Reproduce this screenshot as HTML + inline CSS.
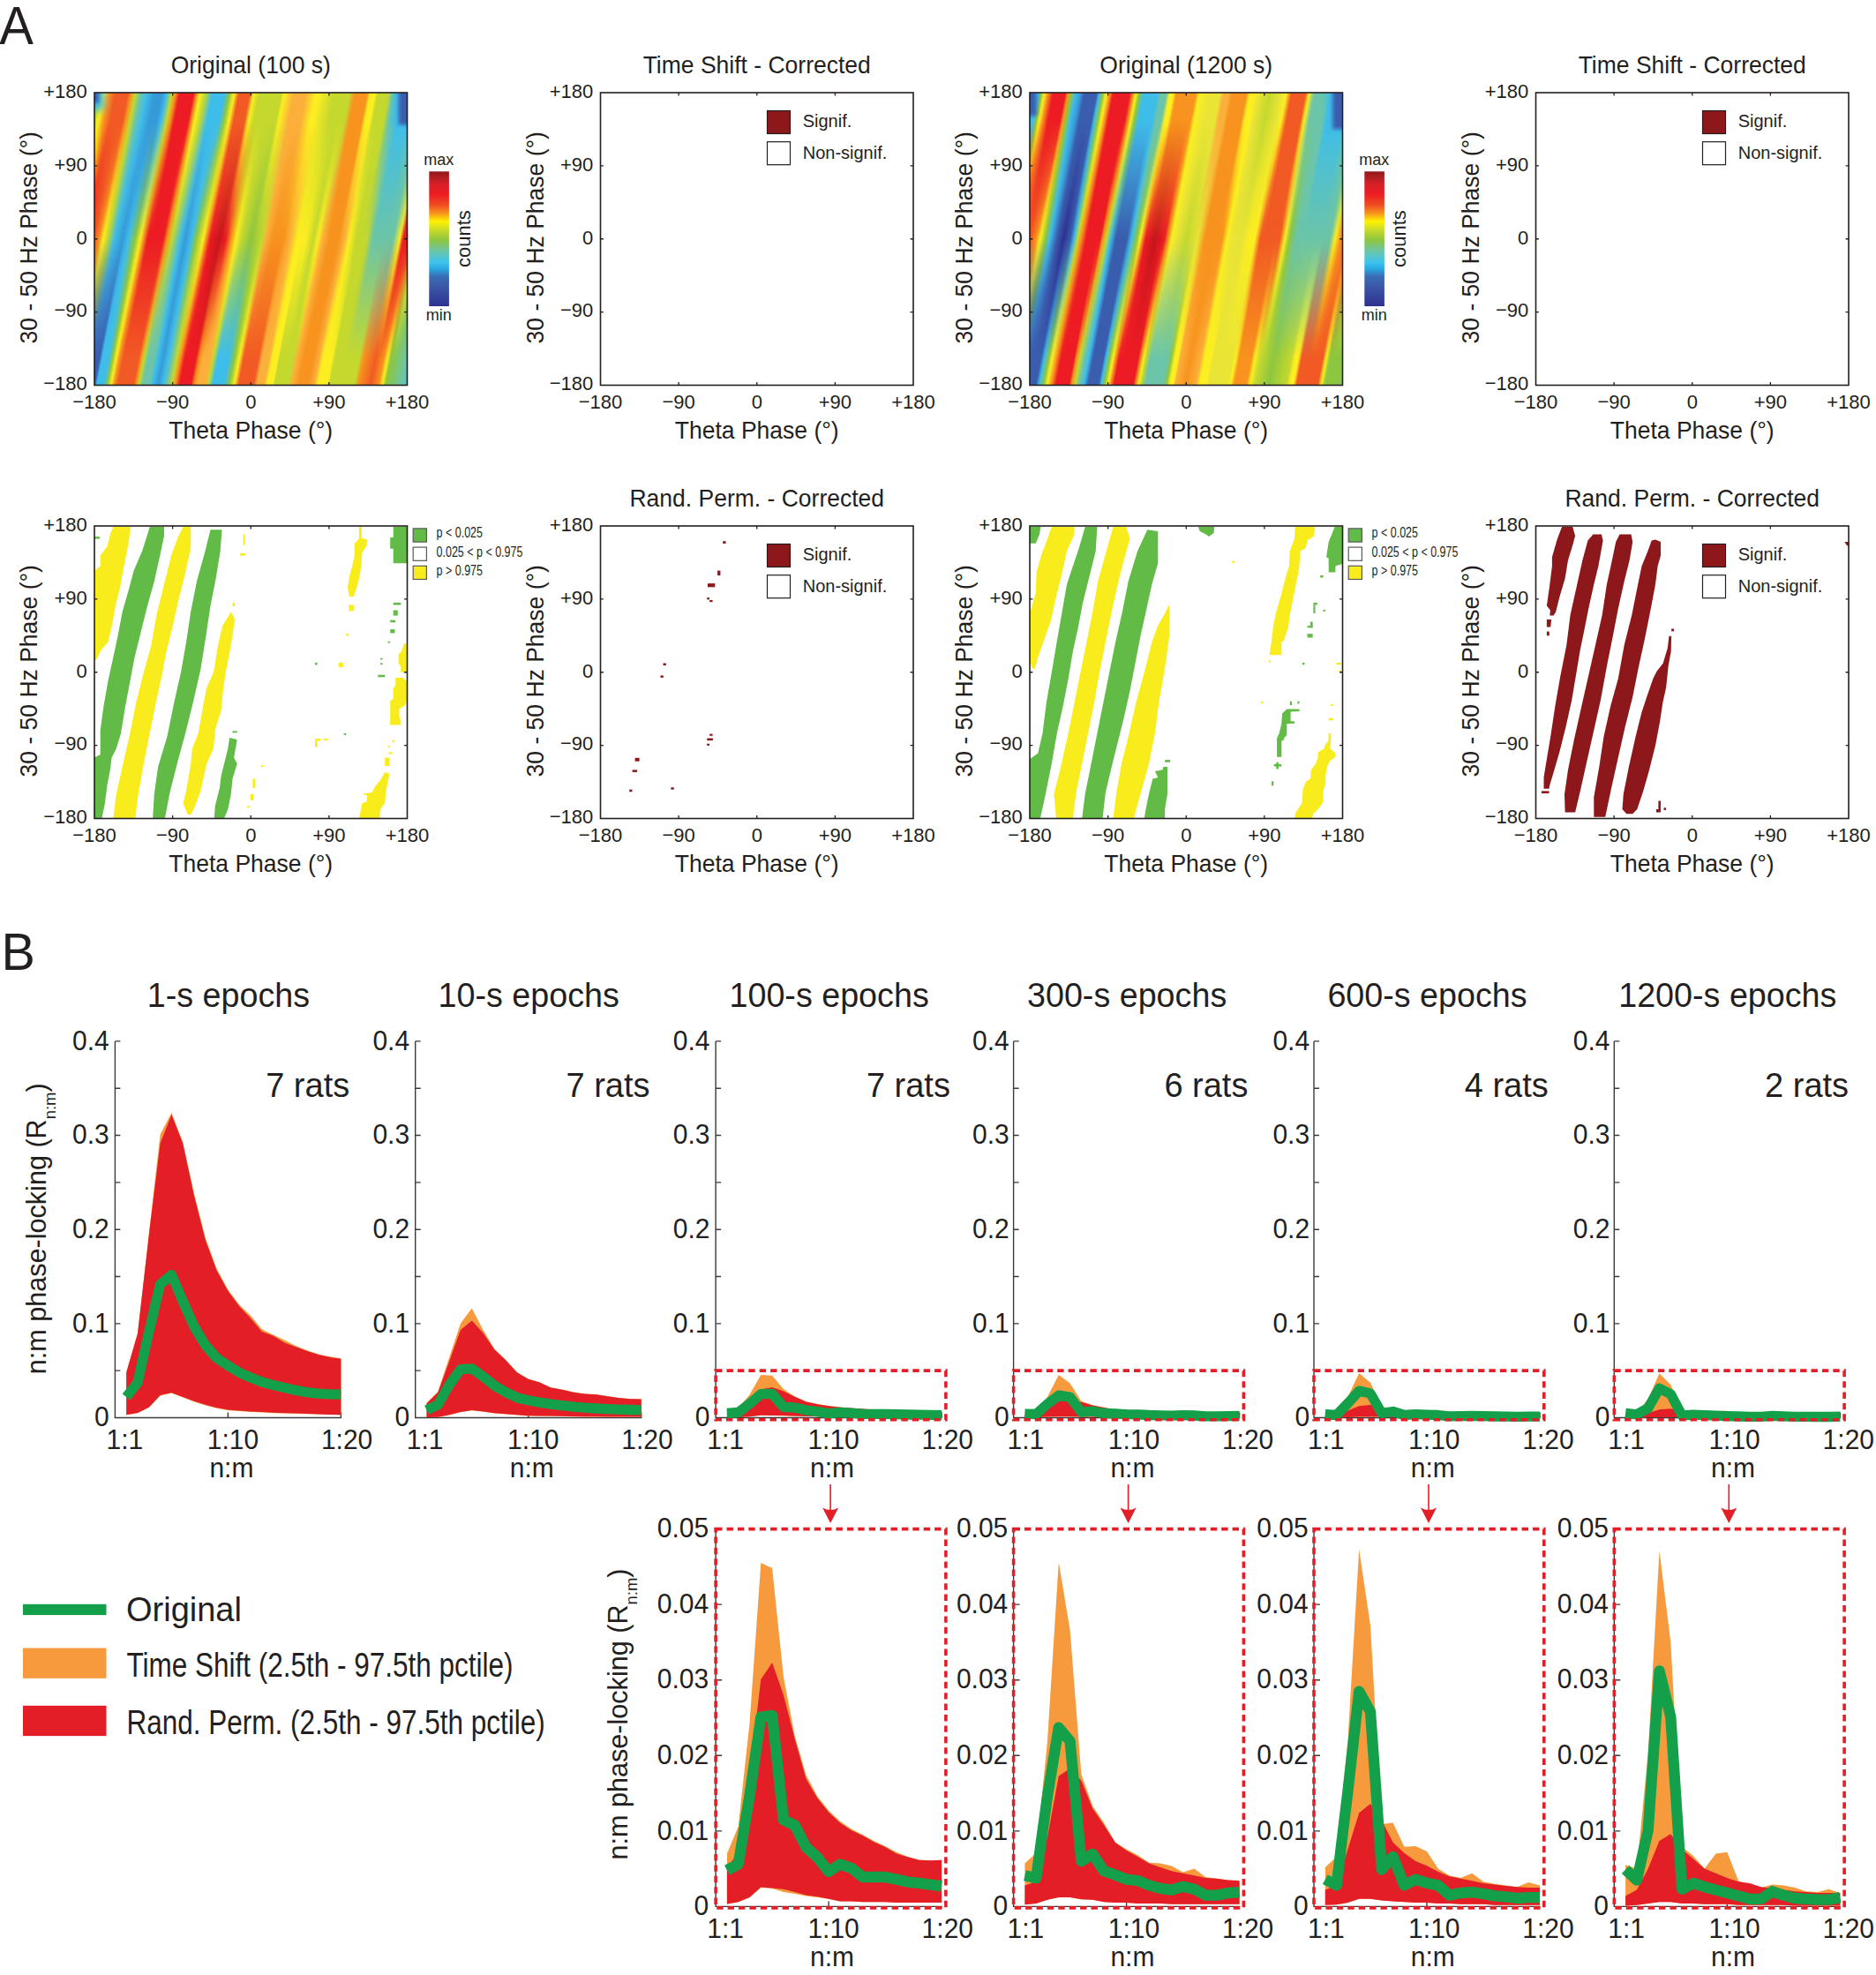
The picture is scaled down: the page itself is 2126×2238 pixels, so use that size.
<!DOCTYPE html>
<html><head><meta charset="utf-8"><title>Figure</title>
<style>html,body{margin:0;padding:0;background:#fff}svg{display:block}text{font-family:"Liberation Sans", sans-serif}</style></head>
<body><svg width="2126" height="2238" viewBox="0 0 2126 2238">
<defs><filter id="bl2" x="-50%" y="-50%" width="200%" height="200%"><feGaussianBlur stdDeviation="2"/></filter><filter id="bl4" x="-50%" y="-50%" width="200%" height="200%"><feGaussianBlur stdDeviation="4"/></filter>
<clipPath id="cp1"><rect x="107.00" y="105.00" width="354.50" height="331.50"/></clipPath>
<linearGradient id="hm1" gradientUnits="userSpaceOnUse" x1="50.28" y1="0" x2="518.22" y2="0"><stop offset="0.0000" stop-color="#8DC63F"/><stop offset="0.0303" stop-color="#3FBDEA"/><stop offset="0.0530" stop-color="#3FBDEA"/><stop offset="0.0720" stop-color="#8DC63F"/><stop offset="0.0833" stop-color="#FCEE21"/><stop offset="0.0985" stop-color="#ED1C24"/><stop offset="0.1212" stop-color="#F15A24"/><stop offset="0.1326" stop-color="#F7931E"/><stop offset="0.1424" stop-color="#FCEE21"/><stop offset="0.1530" stop-color="#C4D82E"/><stop offset="0.1697" stop-color="#3FBDEA"/><stop offset="0.1894" stop-color="#379AD8"/><stop offset="0.2030" stop-color="#3FBDEA"/><stop offset="0.2197" stop-color="#8DC63F"/><stop offset="0.2326" stop-color="#FCEE21"/><stop offset="0.2500" stop-color="#ED1C24"/><stop offset="0.2879" stop-color="#ED1C24"/><stop offset="0.2970" stop-color="#F7931E"/><stop offset="0.3083" stop-color="#C4D82E"/><stop offset="0.3295" stop-color="#3FBDEA"/><stop offset="0.3409" stop-color="#379AD8"/><stop offset="0.3561" stop-color="#3FBDEA"/><stop offset="0.3674" stop-color="#8DC63F"/><stop offset="0.3848" stop-color="#FCEE21"/><stop offset="0.4015" stop-color="#ED1C24"/><stop offset="0.4242" stop-color="#C4161C"/><stop offset="0.4394" stop-color="#ED1C24"/><stop offset="0.4523" stop-color="#F7931E"/><stop offset="0.4644" stop-color="#FCEE21"/><stop offset="0.4773" stop-color="#C4D82E"/><stop offset="0.5000" stop-color="#8DC63F"/><stop offset="0.5280" stop-color="#C4D82E"/><stop offset="0.5364" stop-color="#FBB03B"/><stop offset="0.5530" stop-color="#F7931E"/><stop offset="0.5795" stop-color="#F7931E"/><stop offset="0.5955" stop-color="#FBB03B"/><stop offset="0.6121" stop-color="#FCEE21"/><stop offset="0.6333" stop-color="#FCEE21"/><stop offset="0.6515" stop-color="#C4D82E"/><stop offset="0.6629" stop-color="#FCEE21"/><stop offset="0.6742" stop-color="#FBB03B"/><stop offset="0.6894" stop-color="#F7931E"/><stop offset="0.7121" stop-color="#F7931E"/><stop offset="0.7273" stop-color="#FBB03B"/><stop offset="0.7386" stop-color="#FCEE21"/><stop offset="0.7553" stop-color="#C4D82E"/><stop offset="0.7803" stop-color="#C4D82E"/><stop offset="0.7955" stop-color="#6CC5A8"/><stop offset="0.8447" stop-color="#6CC5A8"/><stop offset="0.8606" stop-color="#FCEE21"/><stop offset="0.8689" stop-color="#ED1C24"/><stop offset="0.8864" stop-color="#ED1C24"/><stop offset="0.9015" stop-color="#FCEE21"/><stop offset="0.9167" stop-color="#8DC63F"/><stop offset="0.9394" stop-color="#3FBDEA"/><stop offset="0.9697" stop-color="#3A5DAE"/><stop offset="1.0000" stop-color="#3A5DAE"/></linearGradient>
<linearGradient id="mgt1" gradientUnits="userSpaceOnUse" x1="0" y1="137.16" x2="0" y2="270.75"><stop offset="0" stop-color="#fff"/><stop offset="1" stop-color="#000"/></linearGradient>
<mask id="mt1" maskUnits="userSpaceOnUse" x="102.00" y="100.00" width="364.50" height="341.50"><rect x="102.00" y="100.00" width="364.50" height="341.50" fill="url(#mgt1)"/></mask>
<linearGradient id="hmt1" gradientUnits="userSpaceOnUse" x1="50.28" y1="0" x2="518.22" y2="0"><stop offset="0.0000" stop-color="#3FBDEA"/><stop offset="0.0985" stop-color="#3FBDEA"/><stop offset="0.1136" stop-color="#8DC63F"/><stop offset="0.1212" stop-color="#C4D82E"/><stop offset="0.1303" stop-color="#FCEE21"/><stop offset="0.1439" stop-color="#F7931E"/><stop offset="0.1591" stop-color="#F15A24"/><stop offset="0.1894" stop-color="#F15A24"/><stop offset="0.1970" stop-color="#F7931E"/><stop offset="0.2076" stop-color="#C4D82E"/><stop offset="0.2197" stop-color="#6CC5A8"/><stop offset="0.2348" stop-color="#3FBDEA"/><stop offset="0.2538" stop-color="#379AD8"/><stop offset="0.2727" stop-color="#379AD8"/><stop offset="0.2833" stop-color="#3FBDEA"/><stop offset="0.2955" stop-color="#C4D82E"/><stop offset="0.3045" stop-color="#F7931E"/><stop offset="0.3144" stop-color="#ED1C24"/><stop offset="0.3485" stop-color="#ED1C24"/><stop offset="0.3561" stop-color="#F7931E"/><stop offset="0.3636" stop-color="#FCEE21"/><stop offset="0.3758" stop-color="#C4D82E"/><stop offset="0.3939" stop-color="#3FBDEA"/><stop offset="0.4242" stop-color="#3FBDEA"/><stop offset="0.4348" stop-color="#8DC63F"/><stop offset="0.4470" stop-color="#FCEE21"/><stop offset="0.4583" stop-color="#F15A24"/><stop offset="0.4848" stop-color="#F15A24"/><stop offset="0.4939" stop-color="#FCEE21"/><stop offset="0.5076" stop-color="#C4D82E"/><stop offset="0.5606" stop-color="#C4D82E"/><stop offset="0.5682" stop-color="#FCEE21"/><stop offset="0.5909" stop-color="#FBB03B"/><stop offset="0.6212" stop-color="#FBB03B"/><stop offset="0.6439" stop-color="#FCEE21"/><stop offset="0.6515" stop-color="#FCEE21"/><stop offset="0.6894" stop-color="#C4D82E"/><stop offset="0.7273" stop-color="#C4D82E"/><stop offset="0.7386" stop-color="#F7931E"/><stop offset="0.7689" stop-color="#F7931E"/><stop offset="0.7765" stop-color="#FCEE21"/><stop offset="0.7879" stop-color="#FCEE21"/><stop offset="0.7955" stop-color="#C4D82E"/><stop offset="0.8220" stop-color="#C4D82E"/><stop offset="0.8333" stop-color="#6CC5A8"/><stop offset="0.8561" stop-color="#3FBDEA"/><stop offset="0.8788" stop-color="#3FBDEA"/><stop offset="0.9015" stop-color="#6CC5A8"/><stop offset="1.0000" stop-color="#6CC5A8"/></linearGradient>
<linearGradient id="mgb1" gradientUnits="userSpaceOnUse" x1="0" y1="270.75" x2="0" y2="405.01"><stop offset="0" stop-color="#000"/><stop offset="1" stop-color="#fff"/></linearGradient>
<mask id="mb1" maskUnits="userSpaceOnUse" x="102.00" y="100.00" width="364.50" height="341.50"><rect x="102.00" y="100.00" width="364.50" height="341.50" fill="url(#mgb1)"/></mask>
<linearGradient id="hmb1" gradientUnits="userSpaceOnUse" x1="50.28" y1="0" x2="518.22" y2="0"><stop offset="0.0000" stop-color="#3A5DAE"/><stop offset="0.1061" stop-color="#3A5DAE"/><stop offset="0.1212" stop-color="#3A5DAE"/><stop offset="0.1341" stop-color="#3A5DAE"/><stop offset="0.1402" stop-color="#3FBDEA"/><stop offset="0.1568" stop-color="#3FBDEA"/><stop offset="0.1652" stop-color="#8DC63F"/><stop offset="0.1742" stop-color="#FCEE21"/><stop offset="0.1818" stop-color="#F7931E"/><stop offset="0.1909" stop-color="#F15A24"/><stop offset="0.2288" stop-color="#F15A24"/><stop offset="0.2348" stop-color="#F7931E"/><stop offset="0.2409" stop-color="#C4D82E"/><stop offset="0.2515" stop-color="#6CC5A8"/><stop offset="0.2667" stop-color="#6CC5A8"/><stop offset="0.2750" stop-color="#3FBDEA"/><stop offset="0.2879" stop-color="#379AD8"/><stop offset="0.3000" stop-color="#3FBDEA"/><stop offset="0.3087" stop-color="#6CC5A8"/><stop offset="0.3212" stop-color="#C4D82E"/><stop offset="0.3295" stop-color="#F7931E"/><stop offset="0.3402" stop-color="#ED1C24"/><stop offset="0.3674" stop-color="#ED1C24"/><stop offset="0.3758" stop-color="#F7931E"/><stop offset="0.3848" stop-color="#FBB03B"/><stop offset="0.4015" stop-color="#FBB03B"/><stop offset="0.4098" stop-color="#C4D82E"/><stop offset="0.4205" stop-color="#3FBDEA"/><stop offset="0.4477" stop-color="#3FBDEA"/><stop offset="0.4606" stop-color="#8DC63F"/><stop offset="0.4727" stop-color="#FCEE21"/><stop offset="0.4833" stop-color="#F15A24"/><stop offset="0.5189" stop-color="#F15A24"/><stop offset="0.5280" stop-color="#FBB03B"/><stop offset="0.5447" stop-color="#FBB03B"/><stop offset="0.5530" stop-color="#FCEE21"/><stop offset="0.5659" stop-color="#FCEE21"/><stop offset="0.5697" stop-color="#C4D82E"/><stop offset="0.6038" stop-color="#C4D82E"/><stop offset="0.6121" stop-color="#FBB03B"/><stop offset="0.6288" stop-color="#F7931E"/><stop offset="0.6515" stop-color="#F7931E"/><stop offset="0.6667" stop-color="#FBB03B"/><stop offset="0.6750" stop-color="#FCEE21"/><stop offset="0.6970" stop-color="#FCEE21"/><stop offset="0.7045" stop-color="#C4D82E"/><stop offset="0.7636" stop-color="#C4D82E"/><stop offset="0.7727" stop-color="#F7931E"/><stop offset="0.8030" stop-color="#F15A24"/><stop offset="0.8227" stop-color="#F7931E"/><stop offset="0.8311" stop-color="#FCEE21"/><stop offset="0.8394" stop-color="#8DC63F"/><stop offset="0.8788" stop-color="#6CC5A8"/><stop offset="0.9015" stop-color="#3FBDEA"/><stop offset="1.0000" stop-color="#3FBDEA"/></linearGradient>
<linearGradient id="cb1" x1="0" y1="0" x2="0" y2="1"><stop offset="0.000" stop-color="#8E191C"/><stop offset="0.050" stop-color="#B51E23"/><stop offset="0.100" stop-color="#DA2027"/><stop offset="0.170" stop-color="#ED1C24"/><stop offset="0.250" stop-color="#F04E23"/><stop offset="0.310" stop-color="#F7931E"/><stop offset="0.370" stop-color="#FFF200"/><stop offset="0.440" stop-color="#C4D82E"/><stop offset="0.510" stop-color="#8DC63F"/><stop offset="0.590" stop-color="#6CC5A8"/><stop offset="0.675" stop-color="#3FC3EE"/><stop offset="0.720" stop-color="#29ABE2"/><stop offset="0.780" stop-color="#3A6DB5"/><stop offset="0.870" stop-color="#3A53A4"/><stop offset="1.000" stop-color="#2E3192"/></linearGradient>
<clipPath id="cp3"><rect x="1167.00" y="105.00" width="354.50" height="331.50"/></clipPath>
<linearGradient id="hm3" gradientUnits="userSpaceOnUse" x1="1110.28" y1="0" x2="1578.22" y2="0"><stop offset="0.0000" stop-color="#3A5DAE"/><stop offset="0.0303" stop-color="#3FBDEA"/><stop offset="0.0455" stop-color="#FCEE21"/><stop offset="0.0568" stop-color="#ED1C24"/><stop offset="0.0909" stop-color="#ED1C24"/><stop offset="0.1061" stop-color="#F15A24"/><stop offset="0.1212" stop-color="#F15A24"/><stop offset="0.1364" stop-color="#F7931E"/><stop offset="0.1462" stop-color="#FCEE21"/><stop offset="0.1591" stop-color="#8DC63F"/><stop offset="0.1697" stop-color="#3FBDEA"/><stop offset="0.1864" stop-color="#3A5DAE"/><stop offset="0.2030" stop-color="#2E3192"/><stop offset="0.2197" stop-color="#3A5DAE"/><stop offset="0.2288" stop-color="#3FBDEA"/><stop offset="0.2371" stop-color="#C4D82E"/><stop offset="0.2455" stop-color="#F7931E"/><stop offset="0.2576" stop-color="#ED1C24"/><stop offset="0.2917" stop-color="#ED1C24"/><stop offset="0.2977" stop-color="#F7931E"/><stop offset="0.3068" stop-color="#C4D82E"/><stop offset="0.3167" stop-color="#3FBDEA"/><stop offset="0.3295" stop-color="#3A5DAE"/><stop offset="0.3561" stop-color="#3A5DAE"/><stop offset="0.3674" stop-color="#3FBDEA"/><stop offset="0.3803" stop-color="#8DC63F"/><stop offset="0.3886" stop-color="#FCEE21"/><stop offset="0.4015" stop-color="#ED1C24"/><stop offset="0.4242" stop-color="#C4161C"/><stop offset="0.4470" stop-color="#ED1C24"/><stop offset="0.4561" stop-color="#F7931E"/><stop offset="0.4644" stop-color="#FCEE21"/><stop offset="0.4773" stop-color="#E9E436"/><stop offset="0.5000" stop-color="#C4D82E"/><stop offset="0.5280" stop-color="#E9E436"/><stop offset="0.5455" stop-color="#F7931E"/><stop offset="0.5871" stop-color="#F7931E"/><stop offset="0.5985" stop-color="#FCEE21"/><stop offset="0.6121" stop-color="#E9E436"/><stop offset="0.6364" stop-color="#E9E436"/><stop offset="0.6515" stop-color="#FCEE21"/><stop offset="0.6667" stop-color="#FCEE21"/><stop offset="0.6795" stop-color="#F15A24"/><stop offset="0.7273" stop-color="#F15A24"/><stop offset="0.7386" stop-color="#FCEE21"/><stop offset="0.7500" stop-color="#8DC63F"/><stop offset="0.7652" stop-color="#6CC5A8"/><stop offset="0.8485" stop-color="#6CC5A8"/><stop offset="0.8606" stop-color="#FCEE21"/><stop offset="0.8735" stop-color="#F7931E"/><stop offset="0.9015" stop-color="#F15A24"/><stop offset="0.9242" stop-color="#FCEE21"/><stop offset="0.9394" stop-color="#8DC63F"/><stop offset="0.9545" stop-color="#3FBDEA"/><stop offset="0.9773" stop-color="#3A5DAE"/><stop offset="1.0000" stop-color="#2E3192"/></linearGradient>
<linearGradient id="mgt3" gradientUnits="userSpaceOnUse" x1="0" y1="137.16" x2="0" y2="270.75"><stop offset="0" stop-color="#fff"/><stop offset="1" stop-color="#000"/></linearGradient>
<mask id="mt3" maskUnits="userSpaceOnUse" x="1162.00" y="100.00" width="364.50" height="341.50"><rect x="1162.00" y="100.00" width="364.50" height="341.50" fill="url(#mgt3)"/></mask>
<linearGradient id="hmt3" gradientUnits="userSpaceOnUse" x1="1110.28" y1="0" x2="1578.22" y2="0"><stop offset="0.0000" stop-color="#3A5DAE"/><stop offset="0.0985" stop-color="#3A5DAE"/><stop offset="0.1212" stop-color="#3FBDEA"/><stop offset="0.1295" stop-color="#3FBDEA"/><stop offset="0.1364" stop-color="#8DC63F"/><stop offset="0.1439" stop-color="#FCEE21"/><stop offset="0.1523" stop-color="#F7931E"/><stop offset="0.1652" stop-color="#ED1C24"/><stop offset="0.1947" stop-color="#ED1C24"/><stop offset="0.2008" stop-color="#F7931E"/><stop offset="0.2095" stop-color="#8DC63F"/><stop offset="0.2182" stop-color="#3FBDEA"/><stop offset="0.2311" stop-color="#379AD8"/><stop offset="0.2409" stop-color="#3A5DAE"/><stop offset="0.2705" stop-color="#3A5DAE"/><stop offset="0.2769" stop-color="#3FBDEA"/><stop offset="0.2854" stop-color="#8DC63F"/><stop offset="0.2939" stop-color="#FCEE21"/><stop offset="0.3023" stop-color="#F7931E"/><stop offset="0.3106" stop-color="#ED1C24"/><stop offset="0.3508" stop-color="#ED1C24"/><stop offset="0.3591" stop-color="#F7931E"/><stop offset="0.3652" stop-color="#FCEE21"/><stop offset="0.3739" stop-color="#8DC63F"/><stop offset="0.3841" stop-color="#3FBDEA"/><stop offset="0.4182" stop-color="#3FBDEA"/><stop offset="0.4265" stop-color="#6CC5A8"/><stop offset="0.4394" stop-color="#6CC5A8"/><stop offset="0.4477" stop-color="#FCEE21"/><stop offset="0.4561" stop-color="#FCEE21"/><stop offset="0.4644" stop-color="#F7931E"/><stop offset="0.5106" stop-color="#F7931E"/><stop offset="0.5189" stop-color="#FCEE21"/><stop offset="0.5455" stop-color="#E9E436"/><stop offset="0.5697" stop-color="#E9E436"/><stop offset="0.5780" stop-color="#FBB03B"/><stop offset="0.5909" stop-color="#FBB03B"/><stop offset="0.5992" stop-color="#F7931E"/><stop offset="0.6333" stop-color="#F7931E"/><stop offset="0.6417" stop-color="#FCEE21"/><stop offset="0.6538" stop-color="#FCEE21"/><stop offset="0.6629" stop-color="#E9E436"/><stop offset="0.6894" stop-color="#C4D82E"/><stop offset="0.7174" stop-color="#E9E436"/><stop offset="0.7299" stop-color="#FCEE21"/><stop offset="0.7424" stop-color="#F15A24"/><stop offset="0.7765" stop-color="#F15A24"/><stop offset="0.7848" stop-color="#FCEE21"/><stop offset="0.7977" stop-color="#6CC5A8"/><stop offset="0.8311" stop-color="#6CC5A8"/><stop offset="0.8394" stop-color="#3FBDEA"/><stop offset="0.8788" stop-color="#3FBDEA"/><stop offset="0.9015" stop-color="#6CC5A8"/><stop offset="1.0000" stop-color="#6CC5A8"/></linearGradient>
<linearGradient id="mgb3" gradientUnits="userSpaceOnUse" x1="0" y1="270.75" x2="0" y2="405.01"><stop offset="0" stop-color="#000"/><stop offset="1" stop-color="#fff"/></linearGradient>
<mask id="mb3" maskUnits="userSpaceOnUse" x="1162.00" y="100.00" width="364.50" height="341.50"><rect x="1162.00" y="100.00" width="364.50" height="341.50" fill="url(#mgb3)"/></mask>
<linearGradient id="hmb3" gradientUnits="userSpaceOnUse" x1="1110.28" y1="0" x2="1578.22" y2="0"><stop offset="0.0000" stop-color="#3A5DAE"/><stop offset="0.1485" stop-color="#3A5DAE"/><stop offset="0.1568" stop-color="#3FBDEA"/><stop offset="0.1674" stop-color="#8DC63F"/><stop offset="0.1758" stop-color="#FCEE21"/><stop offset="0.1864" stop-color="#F7931E"/><stop offset="0.1970" stop-color="#ED1C24"/><stop offset="0.2288" stop-color="#ED1C24"/><stop offset="0.2348" stop-color="#F7931E"/><stop offset="0.2432" stop-color="#C4D82E"/><stop offset="0.2538" stop-color="#6CC5A8"/><stop offset="0.2644" stop-color="#3FBDEA"/><stop offset="0.2750" stop-color="#3A5DAE"/><stop offset="0.3000" stop-color="#3A5DAE"/><stop offset="0.3064" stop-color="#3FBDEA"/><stop offset="0.3148" stop-color="#8DC63F"/><stop offset="0.3235" stop-color="#FCEE21"/><stop offset="0.3295" stop-color="#F7931E"/><stop offset="0.3379" stop-color="#ED1C24"/><stop offset="0.3841" stop-color="#ED1C24"/><stop offset="0.3909" stop-color="#F7931E"/><stop offset="0.3970" stop-color="#FCEE21"/><stop offset="0.4030" stop-color="#C4D82E"/><stop offset="0.4136" stop-color="#6CC5A8"/><stop offset="0.4561" stop-color="#6CC5A8"/><stop offset="0.4644" stop-color="#8DC63F"/><stop offset="0.4727" stop-color="#FCEE21"/><stop offset="0.4811" stop-color="#FCEE21"/><stop offset="0.4856" stop-color="#FBB03B"/><stop offset="0.5106" stop-color="#F7931E"/><stop offset="0.5364" stop-color="#FBB03B"/><stop offset="0.5447" stop-color="#FCEE21"/><stop offset="0.5614" stop-color="#FCEE21"/><stop offset="0.5659" stop-color="#E9E436"/><stop offset="0.6121" stop-color="#E9E436"/><stop offset="0.6205" stop-color="#FCEE21"/><stop offset="0.6288" stop-color="#F7931E"/><stop offset="0.6583" stop-color="#F7931E"/><stop offset="0.6667" stop-color="#FCEE21"/><stop offset="0.6795" stop-color="#C4D82E"/><stop offset="0.7121" stop-color="#8DC63F"/><stop offset="0.7553" stop-color="#C4D82E"/><stop offset="0.7636" stop-color="#FCEE21"/><stop offset="0.7720" stop-color="#FCEE21"/><stop offset="0.7803" stop-color="#F15A24"/><stop offset="0.8311" stop-color="#F15A24"/><stop offset="0.8394" stop-color="#FCEE21"/><stop offset="0.8485" stop-color="#8DC63F"/><stop offset="0.8788" stop-color="#8DC63F"/><stop offset="0.9015" stop-color="#6CC5A8"/><stop offset="1.0000" stop-color="#6CC5A8"/></linearGradient>
<linearGradient id="cb3" x1="0" y1="0" x2="0" y2="1"><stop offset="0.000" stop-color="#8E191C"/><stop offset="0.050" stop-color="#B51E23"/><stop offset="0.100" stop-color="#DA2027"/><stop offset="0.170" stop-color="#ED1C24"/><stop offset="0.250" stop-color="#F04E23"/><stop offset="0.310" stop-color="#F7931E"/><stop offset="0.370" stop-color="#FFF200"/><stop offset="0.440" stop-color="#C4D82E"/><stop offset="0.510" stop-color="#8DC63F"/><stop offset="0.590" stop-color="#6CC5A8"/><stop offset="0.675" stop-color="#3FC3EE"/><stop offset="0.720" stop-color="#29ABE2"/><stop offset="0.780" stop-color="#3A6DB5"/><stop offset="0.870" stop-color="#3A53A4"/><stop offset="1.000" stop-color="#2E3192"/></linearGradient></defs>
<rect width="2126" height="2238" fill="#fff"/>
<text transform="translate(-0.80 49.60) scale(1 1.040)" font-size="58" text-anchor="start" fill="#231F20">A</text>
<g clip-path="url(#cp1)">
<g><rect x="50.28" y="100.00" width="467.94" height="341.50" fill="url(#hm1)" transform="translate(284.25 270.75) skewX(-10.896) translate(-284.25 -270.75)"/></g>
<g mask="url(#mt1)"><rect x="50.28" y="100.00" width="467.94" height="341.50" fill="url(#hmt1)" transform="translate(284.25 137.16) skewX(-10.896) translate(-284.25 -137.16)"/></g>
<g mask="url(#mb1)"><rect x="50.28" y="100.00" width="467.94" height="341.50" fill="url(#hmb1)" transform="translate(284.25 405.01) skewX(-10.896) translate(-284.25 -405.01)"/></g>
<rect x="445.5" y="88.4" width="33.7" height="56.4" fill="#3FBDEA" filter="url(#bl4)"/>
<rect x="451.6" y="88.4" width="27.7" height="53.0" fill="#3A5DAE" filter="url(#bl2)"/>
<rect x="89.3" y="88.4" width="28.4" height="36.5" fill="#3FBDEA" filter="url(#bl4)"/>
<rect x="89.3" y="88.4" width="22.7" height="28.2" fill="#3A5DAE" filter="url(#bl2)"/>
</g>
<rect x="107.00" y="105.00" width="354.50" height="331.50" fill="none" stroke="#231F20" stroke-width="1.6"/>
<path d="M195.62 436.50v-3.40 M195.62 105.00v3.40 M107.00 353.62h3.40 M461.50 353.62h-3.40 M284.25 436.50v-3.40 M284.25 105.00v3.40 M107.00 270.75h3.40 M461.50 270.75h-3.40 M372.88 436.50v-3.40 M372.88 105.00v3.40 M107.00 187.88h3.40 M461.50 187.88h-3.40" stroke="#231F20" stroke-width="1.3" fill="none"/>
<text transform="translate(107.00 462.70) scale(1 1.040)" font-size="22" text-anchor="middle" fill="#231F20">−180</text>
<text transform="translate(98.80 442.30) scale(1 1.040)" font-size="22" text-anchor="end" fill="#231F20">−180</text>
<text transform="translate(195.62 462.70) scale(1 1.040)" font-size="22" text-anchor="middle" fill="#231F20">−90</text>
<text transform="translate(98.80 359.43) scale(1 1.040)" font-size="22" text-anchor="end" fill="#231F20">−90</text>
<text transform="translate(284.25 462.70) scale(1 1.040)" font-size="22" text-anchor="middle" fill="#231F20">0</text>
<text transform="translate(98.80 276.55) scale(1 1.040)" font-size="22" text-anchor="end" fill="#231F20">0</text>
<text transform="translate(372.88 462.70) scale(1 1.040)" font-size="22" text-anchor="middle" fill="#231F20">+90</text>
<text transform="translate(98.80 193.68) scale(1 1.040)" font-size="22" text-anchor="end" fill="#231F20">+90</text>
<text transform="translate(461.50 462.70) scale(1 1.040)" font-size="22" text-anchor="middle" fill="#231F20">+180</text>
<text transform="translate(98.80 110.80) scale(1 1.040)" font-size="22" text-anchor="end" fill="#231F20">+180</text>
<text transform="translate(284.25 496.70) scale(1 1.025)" font-size="26.5" text-anchor="middle" fill="#231F20">Theta Phase (°)</text>
<text transform="translate(42.00 269.25) rotate(-90) scale(1 1.025)" font-size="26.5" text-anchor="middle" fill="#231F20">30 - 50 Hz Phase (°)</text>
<text transform="translate(284.25 82.70) scale(1 1.025)" font-size="26.5" text-anchor="middle" fill="#231F20">Original (100 s)</text>
<rect x="486.30" y="194.3" width="22.6" height="152.7" fill="url(#cb1)"/>
<text transform="translate(497.30 187.40) scale(1 1.025)" font-size="18" text-anchor="middle" fill="#231F20">max</text>
<text transform="translate(497.30 363.20) scale(1 1.025)" font-size="18" text-anchor="middle" fill="#231F20">min</text>
<text transform="translate(533.00 270.60) rotate(-90) scale(1 1.025)" font-size="22" text-anchor="middle" fill="#231F20">counts</text>
<rect x="680.50" y="105.00" width="354.50" height="331.50" fill="none" stroke="#231F20" stroke-width="1.6"/>
<path d="M769.12 436.50v-3.40 M769.12 105.00v3.40 M680.50 353.62h3.40 M1035.00 353.62h-3.40 M857.75 436.50v-3.40 M857.75 105.00v3.40 M680.50 270.75h3.40 M1035.00 270.75h-3.40 M946.38 436.50v-3.40 M946.38 105.00v3.40 M680.50 187.88h3.40 M1035.00 187.88h-3.40" stroke="#231F20" stroke-width="1.3" fill="none"/>
<text transform="translate(680.50 462.70) scale(1 1.040)" font-size="22" text-anchor="middle" fill="#231F20">−180</text>
<text transform="translate(672.30 442.30) scale(1 1.040)" font-size="22" text-anchor="end" fill="#231F20">−180</text>
<text transform="translate(769.12 462.70) scale(1 1.040)" font-size="22" text-anchor="middle" fill="#231F20">−90</text>
<text transform="translate(672.30 359.43) scale(1 1.040)" font-size="22" text-anchor="end" fill="#231F20">−90</text>
<text transform="translate(857.75 462.70) scale(1 1.040)" font-size="22" text-anchor="middle" fill="#231F20">0</text>
<text transform="translate(672.30 276.55) scale(1 1.040)" font-size="22" text-anchor="end" fill="#231F20">0</text>
<text transform="translate(946.38 462.70) scale(1 1.040)" font-size="22" text-anchor="middle" fill="#231F20">+90</text>
<text transform="translate(672.30 193.68) scale(1 1.040)" font-size="22" text-anchor="end" fill="#231F20">+90</text>
<text transform="translate(1035.00 462.70) scale(1 1.040)" font-size="22" text-anchor="middle" fill="#231F20">+180</text>
<text transform="translate(672.30 110.80) scale(1 1.040)" font-size="22" text-anchor="end" fill="#231F20">+180</text>
<text transform="translate(857.75 496.70) scale(1 1.025)" font-size="26.5" text-anchor="middle" fill="#231F20">Theta Phase (°)</text>
<text transform="translate(615.50 269.25) rotate(-90) scale(1 1.025)" font-size="26.5" text-anchor="middle" fill="#231F20">30 - 50 Hz Phase (°)</text>
<text transform="translate(857.75 82.70) scale(1 1.025)" font-size="26.5" text-anchor="middle" fill="#231F20">Time Shift - Corrected</text>
<rect x="869.50" y="125.50" width="26" height="26" fill="#8C181B" stroke="#231F20" stroke-width="1.2"/>
<rect x="869.50" y="160.70" width="26" height="26" fill="#fff" stroke="#231F20" stroke-width="1.2"/>
<text transform="translate(909.70 144.30) scale(1 1.025)" font-size="20" text-anchor="start" fill="#231F20">Signif.</text>
<text transform="translate(909.70 179.80) scale(1 1.025)" font-size="20" text-anchor="start" fill="#231F20">Non-signif.</text>
<g clip-path="url(#cp3)">
<g><rect x="1110.28" y="100.00" width="467.94" height="341.50" fill="url(#hm3)" transform="translate(1344.25 270.75) skewX(-10.718) translate(-1344.25 -270.75)"/></g>
<g mask="url(#mt3)"><rect x="1110.28" y="100.00" width="467.94" height="341.50" fill="url(#hmt3)" transform="translate(1344.25 137.16) skewX(-10.718) translate(-1344.25 -137.16)"/></g>
<g mask="url(#mb3)"><rect x="1110.28" y="100.00" width="467.94" height="341.50" fill="url(#hmb3)" transform="translate(1344.25 405.01) skewX(-10.718) translate(-1344.25 -405.01)"/></g>
<rect x="1503.8" y="88.4" width="35.5" height="63.0" fill="#3FBDEA" filter="url(#bl4)"/>
<rect x="1510.2" y="88.4" width="29.1" height="58.0" fill="#3A5DAE" filter="url(#bl2)"/>
<rect x="1149.3" y="88.4" width="25.5" height="43.1" fill="#3A5DAE" filter="url(#bl2)"/>
</g>
<rect x="1167.00" y="105.00" width="354.50" height="331.50" fill="none" stroke="#231F20" stroke-width="1.6"/>
<path d="M1255.62 436.50v-3.40 M1255.62 105.00v3.40 M1167.00 353.62h3.40 M1521.50 353.62h-3.40 M1344.25 436.50v-3.40 M1344.25 105.00v3.40 M1167.00 270.75h3.40 M1521.50 270.75h-3.40 M1432.88 436.50v-3.40 M1432.88 105.00v3.40 M1167.00 187.88h3.40 M1521.50 187.88h-3.40" stroke="#231F20" stroke-width="1.3" fill="none"/>
<text transform="translate(1167.00 462.70) scale(1 1.040)" font-size="22" text-anchor="middle" fill="#231F20">−180</text>
<text transform="translate(1158.80 442.30) scale(1 1.040)" font-size="22" text-anchor="end" fill="#231F20">−180</text>
<text transform="translate(1255.62 462.70) scale(1 1.040)" font-size="22" text-anchor="middle" fill="#231F20">−90</text>
<text transform="translate(1158.80 359.43) scale(1 1.040)" font-size="22" text-anchor="end" fill="#231F20">−90</text>
<text transform="translate(1344.25 462.70) scale(1 1.040)" font-size="22" text-anchor="middle" fill="#231F20">0</text>
<text transform="translate(1158.80 276.55) scale(1 1.040)" font-size="22" text-anchor="end" fill="#231F20">0</text>
<text transform="translate(1432.88 462.70) scale(1 1.040)" font-size="22" text-anchor="middle" fill="#231F20">+90</text>
<text transform="translate(1158.80 193.68) scale(1 1.040)" font-size="22" text-anchor="end" fill="#231F20">+90</text>
<text transform="translate(1521.50 462.70) scale(1 1.040)" font-size="22" text-anchor="middle" fill="#231F20">+180</text>
<text transform="translate(1158.80 110.80) scale(1 1.040)" font-size="22" text-anchor="end" fill="#231F20">+180</text>
<text transform="translate(1344.25 496.70) scale(1 1.025)" font-size="26.5" text-anchor="middle" fill="#231F20">Theta Phase (°)</text>
<text transform="translate(1102.00 269.25) rotate(-90) scale(1 1.025)" font-size="26.5" text-anchor="middle" fill="#231F20">30 - 50 Hz Phase (°)</text>
<text transform="translate(1344.25 82.70) scale(1 1.025)" font-size="26.5" text-anchor="middle" fill="#231F20">Original (1200 s)</text>
<rect x="1546.30" y="194.3" width="22.6" height="152.7" fill="url(#cb3)"/>
<text transform="translate(1557.30 187.40) scale(1 1.025)" font-size="18" text-anchor="middle" fill="#231F20">max</text>
<text transform="translate(1557.30 363.20) scale(1 1.025)" font-size="18" text-anchor="middle" fill="#231F20">min</text>
<text transform="translate(1593.00 270.60) rotate(-90) scale(1 1.025)" font-size="22" text-anchor="middle" fill="#231F20">counts</text>
<rect x="1740.50" y="105.00" width="354.50" height="331.50" fill="none" stroke="#231F20" stroke-width="1.6"/>
<path d="M1829.12 436.50v-3.40 M1829.12 105.00v3.40 M1740.50 353.62h3.40 M2095.00 353.62h-3.40 M1917.75 436.50v-3.40 M1917.75 105.00v3.40 M1740.50 270.75h3.40 M2095.00 270.75h-3.40 M2006.38 436.50v-3.40 M2006.38 105.00v3.40 M1740.50 187.88h3.40 M2095.00 187.88h-3.40" stroke="#231F20" stroke-width="1.3" fill="none"/>
<text transform="translate(1740.50 462.70) scale(1 1.040)" font-size="22" text-anchor="middle" fill="#231F20">−180</text>
<text transform="translate(1732.30 442.30) scale(1 1.040)" font-size="22" text-anchor="end" fill="#231F20">−180</text>
<text transform="translate(1829.12 462.70) scale(1 1.040)" font-size="22" text-anchor="middle" fill="#231F20">−90</text>
<text transform="translate(1732.30 359.43) scale(1 1.040)" font-size="22" text-anchor="end" fill="#231F20">−90</text>
<text transform="translate(1917.75 462.70) scale(1 1.040)" font-size="22" text-anchor="middle" fill="#231F20">0</text>
<text transform="translate(1732.30 276.55) scale(1 1.040)" font-size="22" text-anchor="end" fill="#231F20">0</text>
<text transform="translate(2006.38 462.70) scale(1 1.040)" font-size="22" text-anchor="middle" fill="#231F20">+90</text>
<text transform="translate(1732.30 193.68) scale(1 1.040)" font-size="22" text-anchor="end" fill="#231F20">+90</text>
<text transform="translate(2095.00 462.70) scale(1 1.040)" font-size="22" text-anchor="middle" fill="#231F20">+180</text>
<text transform="translate(1732.30 110.80) scale(1 1.040)" font-size="22" text-anchor="end" fill="#231F20">+180</text>
<text transform="translate(1917.75 496.70) scale(1 1.025)" font-size="26.5" text-anchor="middle" fill="#231F20">Theta Phase (°)</text>
<text transform="translate(1675.50 269.25) rotate(-90) scale(1 1.025)" font-size="26.5" text-anchor="middle" fill="#231F20">30 - 50 Hz Phase (°)</text>
<text transform="translate(1917.75 82.70) scale(1 1.025)" font-size="26.5" text-anchor="middle" fill="#231F20">Time Shift - Corrected</text>
<rect x="1929.50" y="125.50" width="26" height="26" fill="#8C181B" stroke="#231F20" stroke-width="1.2"/>
<rect x="1929.50" y="160.70" width="26" height="26" fill="#fff" stroke="#231F20" stroke-width="1.2"/>
<text transform="translate(1969.70 144.30) scale(1 1.025)" font-size="20" text-anchor="start" fill="#231F20">Signif.</text>
<text transform="translate(1969.70 179.80) scale(1 1.025)" font-size="20" text-anchor="start" fill="#231F20">Non-signif.</text>
<polygon points="128.3,596.9 148.1,596.9 145.6,615.8 140.4,641.6 136.1,665.7 130.9,686.4 126.6,710.5 122.3,727.7 113.7,738.0 109.4,747.5 107.0,747.5 107.0,646.8 113.7,641.6 113.7,629.6 121.5,619.2 124.9,605.5" fill="#F9EC1C"/>
<polygon points="186.0,596.9 186.0,607.2 181.7,627.8 174.8,658.8 166.2,689.8 159.3,717.4 152.5,744.9 147.3,772.4 142.1,800.0 137.0,831.0 131.8,848.2 126.6,858.5 124.9,872.3 121.5,889.5 118.9,910.2 115.4,927.4 107.0,927.4 107.0,858.5 113.7,855.1 113.7,827.5 117.2,801.7 122.3,772.4 128.3,744.9 133.5,720.8 138.7,693.3 145.6,669.2 151.6,646.8 161.1,624.4 168.8,600.3 169.7,596.9" fill="#62BB46"/>
<polygon points="216.2,596.9 216.2,621.0 209.3,651.9 202.4,679.5 195.5,710.5 188.6,738.0 183.4,765.6 176.6,796.5 169.7,831.0 162.8,865.4 156.8,899.8 153.3,927.4 128.3,927.4 131.8,899.8 139.5,865.4 147.3,831.0 154.2,796.5 161.9,765.6 171.4,731.1 177.4,696.7 186.0,662.3 194.6,627.8 202.4,607.2 207.5,596.9" fill="#F9EC1C"/>
<polygon points="251.5,600.3 249.7,624.4 244.6,655.4 238.5,686.4 233.4,720.8 227.3,758.7 218.7,796.5 210.1,831.0 200.7,865.4 192.1,899.8 186.9,927.4 173.1,927.4 174.8,899.8 179.1,868.9 189.5,834.4 197.2,796.5 205.0,762.1 211.0,727.7 216.2,693.3 223.0,658.8 232.5,624.4 238.5,600.3" fill="#62BB46"/>
<polygon points="261.8,693.3 266.1,701.9 261.8,731.1 255.8,762.1 253.2,779.3 250.6,805.2 243.7,827.5 242.0,848.2 234.2,865.4 227.3,896.4 219.6,917.1 216.2,923.1 212.7,923.1 207.5,910.2 211.0,896.4 216.2,865.4 217.9,848.2 224.8,831.0 230.8,796.5 234.2,779.3 242.0,762.1 247.1,731.1 252.3,708.8" fill="#F9EC1C"/>
<polygon points="260.1,836.1 268.7,837.9 265.2,858.5 268.7,865.4 263.5,882.6 261.8,899.8 258.3,917.1 254.0,927.4 242.8,927.4 243.7,913.6 248.9,893.0 250.6,879.2 254.9,862.0 258.3,848.2" fill="#62BB46"/>
<polygon points="263.5,828.4 268.7,828.4 268.7,830.3 263.5,830.3" fill="#62BB46"/>
<polygon points="107.0,608.1 112.9,608.1 112.9,610.6 107.0,610.6" fill="#62BB46"/>
<polygon points="275.6,605.5 277.4,605.5 277.4,617.5 275.6,617.5" fill="#F9EC1C"/>
<polygon points="272.1,627.0 278.1,627.0 278.1,629.6 272.1,629.6" fill="#F9EC1C"/>
<polygon points="263.5,682.9 266.1,682.9 266.1,687.2 263.5,687.2" fill="#F9EC1C"/>
<polygon points="295.9,867.1 298.5,867.1 298.5,869.2 295.9,869.2" fill="#F9EC1C"/>
<polygon points="286.4,882.6 289.0,882.6 289.0,893.0 286.4,893.0" fill="#F9EC1C"/>
<polygon points="283.8,899.8 287.3,899.8 287.3,906.7 283.8,906.7" fill="#F9EC1C"/>
<polygon points="280.4,913.3 283.0,913.3 283.0,915.3 280.4,915.3" fill="#F9EC1C"/>
<polygon points="406.9,596.9 409.8,596.9 409.8,609.8 416.4,611.5 415.5,618.4 410.4,626.1 409.5,641.6 406.9,656.3 403.5,668.3 400.9,676.0 395.7,676.0 394.0,665.7 396.1,652.8 399.2,641.6 401.8,629.6 401.8,615.8 406.9,610.6" fill="#F9EC1C"/>
<polygon points="395.4,685.5 400.9,685.5 400.9,692.4 395.4,692.4" fill="#F9EC1C"/>
<polygon points="445.7,596.9 461.2,596.9 461.2,638.2 445.7,638.2 445.7,621.8 442.2,621.8 442.2,608.9 445.7,608.9" fill="#62BB46"/>
<polygon points="445.7,682.9 454.3,682.9 454.3,685.5 445.7,685.5" fill="#62BB46"/>
<polygon points="445.7,691.5 450.8,691.5 450.8,697.6 445.7,697.6" fill="#62BB46"/>
<polygon points="442.2,702.7 448.2,702.7 448.2,705.3 442.2,705.3" fill="#62BB46"/>
<polygon points="442.2,713.1 447.4,713.1 447.4,717.4 442.2,717.4" fill="#62BB46"/>
<polygon points="439.6,726.8 442.2,726.8 442.2,728.6 439.6,728.6" fill="#62BB46"/>
<polygon points="431.0,745.8 433.6,745.8 433.6,747.5 431.0,747.5" fill="#62BB46"/>
<polygon points="431.0,751.3 433.6,751.3 433.6,753.0 431.0,753.0" fill="#62BB46"/>
<polygon points="428.4,764.7 436.2,764.7 436.2,767.3 428.4,767.3" fill="#62BB46"/>
<polygon points="357.0,750.9 359.6,750.9 359.6,753.5 357.0,753.5" fill="#62BB46"/>
<polygon points="389.7,831.0 392.3,831.0 392.3,833.0 389.7,833.0" fill="#62BB46"/>
<polygon points="457.7,729.4 461.2,729.4 461.2,762.1 454.3,762.1 454.3,755.2 451.7,751.8 451.7,741.5 455.1,738.0" fill="#F9EC1C"/>
<polygon points="448.2,768.1 456.9,768.1 461.2,772.4 461.2,793.1 459.4,799.1 452.5,803.4 452.5,812.0 454.3,817.2 454.3,821.5 442.2,821.5 442.2,794.8 445.7,791.4 445.7,779.3 448.2,777.6" fill="#F9EC1C"/>
<polygon points="444.8,838.7 447.0,838.7 447.0,841.0 444.8,841.0" fill="#F9EC1C"/>
<polygon points="439.6,844.7 441.9,844.7 441.9,846.8 439.6,846.8" fill="#F9EC1C"/>
<polygon points="440.5,852.5 444.8,852.5 444.8,854.4 440.5,854.4" fill="#F9EC1C"/>
<polygon points="436.2,858.5 441.4,858.5 441.4,868.0 436.2,868.0" fill="#F9EC1C"/>
<polygon points="436.2,874.9 441.4,876.6 438.8,889.5 437.1,899.8 436.2,910.2 431.0,917.1 430.2,927.4 406.9,927.4 410.4,910.2 415.5,908.4 416.4,901.6 410.4,899.8 421.6,898.1 425.0,891.2 431.0,884.3" fill="#F9EC1C"/>
<polygon points="357.0,837.0 363.0,837.0 363.0,839.6 357.0,839.6" fill="#F9EC1C"/>
<polygon points="357.0,839.6 359.6,839.6 359.6,846.5 357.0,846.5" fill="#F9EC1C"/>
<polygon points="366.5,837.0 371.6,837.0 371.6,838.9 366.5,838.9" fill="#F9EC1C"/>
<polygon points="383.7,750.9 388.8,750.9 388.8,756.1 383.7,756.1" fill="#F9EC1C"/>
<polygon points="392.3,718.2 394.9,718.2 394.9,720.5 392.3,720.5" fill="#F9EC1C"/>
<rect x="107.00" y="596.00" width="354.50" height="331.50" fill="none" stroke="#231F20" stroke-width="1.6"/>
<path d="M195.62 927.50v-3.40 M195.62 596.00v3.40 M107.00 844.62h3.40 M461.50 844.62h-3.40 M284.25 927.50v-3.40 M284.25 596.00v3.40 M107.00 761.75h3.40 M461.50 761.75h-3.40 M372.88 927.50v-3.40 M372.88 596.00v3.40 M107.00 678.88h3.40 M461.50 678.88h-3.40" stroke="#231F20" stroke-width="1.3" fill="none"/>
<text transform="translate(107.00 953.70) scale(1 1.040)" font-size="22" text-anchor="middle" fill="#231F20">−180</text>
<text transform="translate(98.80 933.30) scale(1 1.040)" font-size="22" text-anchor="end" fill="#231F20">−180</text>
<text transform="translate(195.62 953.70) scale(1 1.040)" font-size="22" text-anchor="middle" fill="#231F20">−90</text>
<text transform="translate(98.80 850.42) scale(1 1.040)" font-size="22" text-anchor="end" fill="#231F20">−90</text>
<text transform="translate(284.25 953.70) scale(1 1.040)" font-size="22" text-anchor="middle" fill="#231F20">0</text>
<text transform="translate(98.80 767.55) scale(1 1.040)" font-size="22" text-anchor="end" fill="#231F20">0</text>
<text transform="translate(372.88 953.70) scale(1 1.040)" font-size="22" text-anchor="middle" fill="#231F20">+90</text>
<text transform="translate(98.80 684.67) scale(1 1.040)" font-size="22" text-anchor="end" fill="#231F20">+90</text>
<text transform="translate(461.50 953.70) scale(1 1.040)" font-size="22" text-anchor="middle" fill="#231F20">+180</text>
<text transform="translate(98.80 601.80) scale(1 1.040)" font-size="22" text-anchor="end" fill="#231F20">+180</text>
<text transform="translate(284.25 987.70) scale(1 1.025)" font-size="26.5" text-anchor="middle" fill="#231F20">Theta Phase (°)</text>
<text transform="translate(42.00 760.25) rotate(-90) scale(1 1.025)" font-size="26.5" text-anchor="middle" fill="#231F20">30 - 50 Hz Phase (°)</text>
<rect x="468.20" y="598.90" width="15.2" height="15.2" fill="#62BB46" stroke="#58595B" stroke-width="1.2"/>
<text transform="translate(494.60 609.20) scale(0.7800 1.025)" font-size="16" text-anchor="start" fill="#231F20">p &lt; 0.025</text>
<rect x="468.20" y="620.10" width="15.2" height="15.2" fill="#fff" stroke="#58595B" stroke-width="1.2"/>
<text transform="translate(494.60 630.50) scale(0.7800 1.025)" font-size="16" text-anchor="start" fill="#231F20">0.025 &lt; p &lt; 0.975</text>
<rect x="468.20" y="641.30" width="15.2" height="15.2" fill="#F9EC1C" stroke="#58595B" stroke-width="1.2"/>
<text transform="translate(494.60 651.80) scale(0.7800 1.025)" font-size="16" text-anchor="start" fill="#231F20">p &gt; 0.975</text>
<rect x="819.2" y="613.2" width="3.3" height="2.8" fill="#8C181B"/>
<rect x="813.1" y="646.6" width="3.3" height="5.5" fill="#8C181B"/>
<rect x="802.0" y="661.1" width="8.3" height="4.2" fill="#8C181B"/>
<rect x="801.2" y="677.2" width="2.8" height="2.2" fill="#8C181B"/>
<rect x="804.2" y="680.0" width="3.3" height="2.2" fill="#8C181B"/>
<rect x="751.5" y="751.5" width="3.3" height="2.5" fill="#8C181B"/>
<rect x="748.5" y="765.4" width="3.3" height="2.5" fill="#8C181B"/>
<rect x="804.2" y="831.6" width="3.3" height="2.2" fill="#8C181B"/>
<rect x="801.2" y="836.6" width="6.7" height="2.5" fill="#8C181B"/>
<rect x="801.2" y="842.7" width="2.8" height="2.2" fill="#8C181B"/>
<rect x="719.6" y="858.8" width="5.0" height="3.9" fill="#8C181B"/>
<rect x="716.6" y="872.4" width="5.5" height="2.5" fill="#8C181B"/>
<rect x="713.2" y="894.7" width="3.3" height="2.5" fill="#8C181B"/>
<rect x="760.4" y="892.2" width="3.3" height="2.5" fill="#8C181B"/>
<rect x="680.50" y="596.00" width="354.50" height="331.50" fill="none" stroke="#231F20" stroke-width="1.6"/>
<path d="M769.12 927.50v-3.40 M769.12 596.00v3.40 M680.50 844.62h3.40 M1035.00 844.62h-3.40 M857.75 927.50v-3.40 M857.75 596.00v3.40 M680.50 761.75h3.40 M1035.00 761.75h-3.40 M946.38 927.50v-3.40 M946.38 596.00v3.40 M680.50 678.88h3.40 M1035.00 678.88h-3.40" stroke="#231F20" stroke-width="1.3" fill="none"/>
<text transform="translate(680.50 953.70) scale(1 1.040)" font-size="22" text-anchor="middle" fill="#231F20">−180</text>
<text transform="translate(672.30 933.30) scale(1 1.040)" font-size="22" text-anchor="end" fill="#231F20">−180</text>
<text transform="translate(769.12 953.70) scale(1 1.040)" font-size="22" text-anchor="middle" fill="#231F20">−90</text>
<text transform="translate(672.30 850.42) scale(1 1.040)" font-size="22" text-anchor="end" fill="#231F20">−90</text>
<text transform="translate(857.75 953.70) scale(1 1.040)" font-size="22" text-anchor="middle" fill="#231F20">0</text>
<text transform="translate(672.30 767.55) scale(1 1.040)" font-size="22" text-anchor="end" fill="#231F20">0</text>
<text transform="translate(946.38 953.70) scale(1 1.040)" font-size="22" text-anchor="middle" fill="#231F20">+90</text>
<text transform="translate(672.30 684.67) scale(1 1.040)" font-size="22" text-anchor="end" fill="#231F20">+90</text>
<text transform="translate(1035.00 953.70) scale(1 1.040)" font-size="22" text-anchor="middle" fill="#231F20">+180</text>
<text transform="translate(672.30 601.80) scale(1 1.040)" font-size="22" text-anchor="end" fill="#231F20">+180</text>
<text transform="translate(857.75 987.70) scale(1 1.025)" font-size="26.5" text-anchor="middle" fill="#231F20">Theta Phase (°)</text>
<text transform="translate(615.50 760.25) rotate(-90) scale(1 1.025)" font-size="26.5" text-anchor="middle" fill="#231F20">30 - 50 Hz Phase (°)</text>
<text transform="translate(857.75 573.70) scale(1 1.025)" font-size="26.5" text-anchor="middle" fill="#231F20">Rand. Perm. - Corrected</text>
<rect x="869.50" y="616.50" width="26" height="26" fill="#8C181B" stroke="#231F20" stroke-width="1.2"/>
<rect x="869.50" y="651.70" width="26" height="26" fill="#fff" stroke="#231F20" stroke-width="1.2"/>
<text transform="translate(909.70 635.30) scale(1 1.025)" font-size="20" text-anchor="start" fill="#231F20">Signif.</text>
<text transform="translate(909.70 670.80) scale(1 1.025)" font-size="20" text-anchor="start" fill="#231F20">Non-signif.</text>
<polygon points="1167.0,596.9 1179.4,596.9 1178.0,605.5 1173.7,615.8 1167.0,615.8" fill="#62BB46"/>
<polygon points="1217.6,596.9 1216.8,607.2 1209.0,624.4 1203.0,651.9 1196.1,679.5 1190.9,703.6 1182.3,727.7 1176.3,744.9 1172.9,757.8 1170.3,757.8 1167.0,750.1 1167.0,695.0 1173.7,672.6 1174.6,648.5 1180.6,627.8 1188.3,607.2 1191.8,596.9" fill="#F9EC1C"/>
<polygon points="1243.4,596.9 1241.7,624.4 1234.0,655.4 1227.1,682.9 1221.9,710.5 1215.9,738.0 1210.7,769.0 1204.7,800.0 1197.8,831.0 1191.8,865.4 1184.9,899.8 1178.9,927.4 1167.0,927.4 1167.0,860.2 1176.3,853.4 1181.5,831.0 1185.8,796.5 1191.8,762.1 1197.0,731.1 1203.0,696.7 1209.0,662.3 1215.9,641.6 1222.8,621.0 1229.7,596.9" fill="#62BB46"/>
<polygon points="1276.2,596.9 1280.5,610.6 1272.7,638.2 1265.8,665.7 1259.8,693.3 1252.9,727.7 1246.0,762.1 1240.0,796.5 1233.1,831.0 1226.2,865.4 1219.3,899.8 1215.9,927.4 1197.0,927.4 1194.4,899.8 1203.0,865.4 1210.7,831.0 1217.6,796.5 1224.5,762.1 1231.4,727.7 1238.3,693.3 1244.3,658.8 1253.8,624.4 1261.5,596.9" fill="#F9EC1C"/>
<polygon points="1312.3,602.0 1312.3,638.2 1305.4,662.3 1299.4,689.8 1292.5,720.8 1286.5,751.8 1280.5,782.8 1273.6,813.8 1266.7,841.3 1259.8,868.9 1252.9,898.1 1249.5,927.4 1226.2,927.4 1229.7,899.8 1236.6,865.4 1243.4,831.0 1250.3,796.5 1257.2,762.1 1264.1,727.7 1271.9,693.3 1278.7,658.8 1289.1,624.4 1300.3,600.3" fill="#62BB46"/>
<polygon points="1325.2,684.7 1325.2,720.8 1320.9,751.8 1317.5,772.4 1313.2,796.5 1308.9,831.0 1302.0,865.4 1292.5,899.8 1284.8,927.4 1261.5,927.4 1265.0,899.8 1271.0,865.4 1279.6,831.0 1287.3,796.5 1296.8,762.1 1305.4,727.7 1312.3,708.8 1319.2,696.7" fill="#F9EC1C"/>
<polygon points="1318.3,868.9 1323.0,868.9 1323.0,899.8 1320.1,917.1 1320.1,927.4 1296.8,927.4 1298.5,917.1 1302.0,899.8 1306.3,882.6 1312.3,880.9 1308.9,874.0 1317.5,872.3" fill="#62BB46"/>
<polygon points="1320.1,861.1 1326.1,861.1 1326.1,863.7 1320.1,863.7" fill="#62BB46"/>
<polygon points="1357.9,596.9 1376.0,596.9 1375.7,603.7 1370.0,608.1 1366.5,605.5 1359.7,602.0" fill="#62BB46"/>
<polygon points="1467.8,596.9 1490.2,596.9 1489.3,607.2 1481.6,612.4 1479.8,621.0 1473.8,624.4 1472.1,645.1 1468.6,662.3 1465.2,679.5 1461.8,696.7 1460.0,710.5 1454.9,726.0 1452.3,727.7 1452.3,742.3 1438.5,742.3 1441.1,726.0 1442.8,710.5 1446.3,693.3 1451.4,676.0 1455.7,658.8 1460.9,641.6 1461.8,624.4 1466.9,610.6" fill="#F9EC1C"/>
<polygon points="1512.5,596.9 1521.2,596.9 1521.2,639.0 1513.4,641.6 1513.4,648.5 1505.7,648.5 1505.7,633.0 1503.1,631.3 1505.7,614.1 1510.0,603.7" fill="#62BB46"/>
<polygon points="1496.2,651.9 1499.6,651.9 1499.6,654.5 1496.2,654.5" fill="#62BB46"/>
<polygon points="1488.4,682.9 1492.7,682.9 1492.7,685.5 1488.4,685.5" fill="#62BB46"/>
<polygon points="1488.4,685.5 1490.5,685.5 1490.5,695.0 1488.4,695.0" fill="#62BB46"/>
<polygon points="1499.6,690.7 1501.9,690.7 1501.9,692.9 1499.6,692.9" fill="#62BB46"/>
<polygon points="1485.0,704.5 1487.6,704.5 1487.6,711.3 1485.0,711.3" fill="#62BB46"/>
<polygon points="1481.6,709.1 1487.6,709.1 1487.6,711.3 1481.6,711.3" fill="#62BB46"/>
<polygon points="1481.6,718.2 1487.6,718.2 1487.6,722.5 1481.6,722.5" fill="#62BB46"/>
<polygon points="1476.0,750.9 1478.5,750.9 1478.5,753.2 1476.0,753.2" fill="#62BB46"/>
<polygon points="1514.3,750.9 1520.3,750.9 1520.3,753.2 1514.3,753.2" fill="#F9EC1C"/>
<polygon points="1517.4,759.5 1520.3,759.5 1520.3,761.8 1517.4,761.8" fill="#F9EC1C"/>
<polygon points="1508.2,797.9 1510.8,797.9 1510.8,800.0 1508.2,800.0" fill="#F9EC1C"/>
<polygon points="1505.7,813.8 1510.8,813.8 1510.8,816.3 1505.7,816.3" fill="#F9EC1C"/>
<polygon points="1429.0,794.8 1431.6,794.8 1431.6,797.1 1429.0,797.1" fill="#F9EC1C"/>
<polygon points="1396.3,635.6 1398.9,635.6 1398.9,637.8 1396.3,637.8" fill="#F9EC1C"/>
<polygon points="1437.7,748.3 1440.2,748.3 1440.2,750.4 1437.7,750.4" fill="#F9EC1C"/>
<polygon points="1458.3,803.4 1472.6,803.4 1472.6,806.0 1462.6,806.5 1462.6,817.2 1466.9,817.2 1466.9,819.8 1458.3,820.3 1458.3,833.0 1454.9,836.5 1454.9,838.7 1452.3,839.6 1452.3,857.7 1447.1,857.7 1447.1,836.5 1449.7,831.0 1452.3,819.8 1453.1,808.6" fill="#62BB46"/>
<polygon points="1461.8,794.8 1464.0,794.8 1464.0,799.1 1461.8,799.1" fill="#62BB46"/>
<polygon points="1470.4,794.8 1472.6,794.8 1472.6,797.4 1470.4,797.4" fill="#62BB46"/>
<polygon points="1443.7,865.9 1452.3,865.9 1452.3,868.5 1443.7,868.5" fill="#62BB46"/>
<polygon points="1446.3,863.7 1448.8,863.7 1448.8,871.4 1446.3,871.4" fill="#62BB46"/>
<polygon points="1441.1,885.2 1443.3,885.2 1443.3,890.4 1441.1,890.4" fill="#62BB46"/>
<polygon points="1505.7,831.0 1508.2,831.0 1508.2,839.6 1507.4,848.2 1513.4,853.4 1513.4,857.7 1507.4,862.0 1503.9,868.9 1502.2,879.2 1502.2,887.8 1499.6,896.4 1499.6,908.4 1495.3,915.3 1488.4,922.2 1486.7,927.4 1466.9,927.4 1468.6,920.5 1475.5,910.2 1476.4,894.7 1479.8,886.1 1485.0,882.6 1485.9,872.3 1491.0,865.4 1493.6,858.5 1493.6,852.5 1500.5,848.2 1501.4,844.7 1505.3,839.6" fill="#F9EC1C"/>
<rect x="1167.00" y="596.00" width="354.50" height="331.50" fill="none" stroke="#231F20" stroke-width="1.6"/>
<path d="M1255.62 927.50v-3.40 M1255.62 596.00v3.40 M1167.00 844.62h3.40 M1521.50 844.62h-3.40 M1344.25 927.50v-3.40 M1344.25 596.00v3.40 M1167.00 761.75h3.40 M1521.50 761.75h-3.40 M1432.88 927.50v-3.40 M1432.88 596.00v3.40 M1167.00 678.88h3.40 M1521.50 678.88h-3.40" stroke="#231F20" stroke-width="1.3" fill="none"/>
<text transform="translate(1167.00 953.70) scale(1 1.040)" font-size="22" text-anchor="middle" fill="#231F20">−180</text>
<text transform="translate(1158.80 933.30) scale(1 1.040)" font-size="22" text-anchor="end" fill="#231F20">−180</text>
<text transform="translate(1255.62 953.70) scale(1 1.040)" font-size="22" text-anchor="middle" fill="#231F20">−90</text>
<text transform="translate(1158.80 850.42) scale(1 1.040)" font-size="22" text-anchor="end" fill="#231F20">−90</text>
<text transform="translate(1344.25 953.70) scale(1 1.040)" font-size="22" text-anchor="middle" fill="#231F20">0</text>
<text transform="translate(1158.80 767.55) scale(1 1.040)" font-size="22" text-anchor="end" fill="#231F20">0</text>
<text transform="translate(1432.88 953.70) scale(1 1.040)" font-size="22" text-anchor="middle" fill="#231F20">+90</text>
<text transform="translate(1158.80 684.67) scale(1 1.040)" font-size="22" text-anchor="end" fill="#231F20">+90</text>
<text transform="translate(1521.50 953.70) scale(1 1.040)" font-size="22" text-anchor="middle" fill="#231F20">+180</text>
<text transform="translate(1158.80 601.80) scale(1 1.040)" font-size="22" text-anchor="end" fill="#231F20">+180</text>
<text transform="translate(1344.25 987.70) scale(1 1.025)" font-size="26.5" text-anchor="middle" fill="#231F20">Theta Phase (°)</text>
<text transform="translate(1102.00 760.25) rotate(-90) scale(1 1.025)" font-size="26.5" text-anchor="middle" fill="#231F20">30 - 50 Hz Phase (°)</text>
<rect x="1528.20" y="598.90" width="15.2" height="15.2" fill="#62BB46" stroke="#58595B" stroke-width="1.2"/>
<text transform="translate(1554.60 609.20) scale(0.7800 1.025)" font-size="16" text-anchor="start" fill="#231F20">p &lt; 0.025</text>
<rect x="1528.20" y="620.10" width="15.2" height="15.2" fill="#fff" stroke="#58595B" stroke-width="1.2"/>
<text transform="translate(1554.60 630.50) scale(0.7800 1.025)" font-size="16" text-anchor="start" fill="#231F20">0.025 &lt; p &lt; 0.975</text>
<rect x="1528.20" y="641.30" width="15.2" height="15.2" fill="#F9EC1C" stroke="#58595B" stroke-width="1.2"/>
<text transform="translate(1554.60 651.80) scale(0.7800 1.025)" font-size="16" text-anchor="start" fill="#231F20">p &gt; 0.975</text>
<polygon points="1770.1,596.9 1782.2,596.9 1785.1,607.2 1781.3,621.0 1777.0,634.7 1773.6,655.4 1767.5,676.0 1763.2,693.3 1760.6,697.6 1756.3,697.6 1756.9,691.5 1752.9,686.4 1756.3,662.3 1758.9,641.6 1758.9,631.3 1764.9,610.6" fill="#8C181B"/>
<polygon points="1752.9,701.9 1758.1,701.9 1757.2,710.5 1752.9,710.5" fill="#8C181B"/>
<polygon points="1752.9,715.6 1755.8,715.6 1755.8,720.3 1752.9,720.3" fill="#8C181B"/>
<polygon points="1814.9,605.5 1816.6,612.4 1811.4,641.6 1806.3,662.3 1800.2,689.8 1795.1,715.6 1790.8,736.3 1786.5,762.1 1781.3,793.1 1774.4,824.1 1767.5,851.6 1761.5,872.3 1756.3,889.5 1755.5,893.8 1749.5,893.8 1749.5,880.9 1752.0,865.4 1757.2,834.4 1762.4,800.0 1768.4,765.6 1775.3,731.1 1779.6,696.7 1786.5,665.7 1793.4,634.7 1799.4,612.4 1805.4,605.5" fill="#8C181B"/>
<polygon points="1746.9,896.4 1755.5,896.4 1755.5,899.0 1746.9,899.0" fill="#8C181B"/>
<polygon points="1848.5,605.5 1850.2,614.1 1846.7,634.7 1840.7,658.8 1833.8,689.8 1827.8,720.8 1820.9,755.2 1814.0,793.1 1806.3,827.5 1798.5,862.0 1790.8,896.4 1785.1,920.5 1773.6,920.5 1773.0,899.8 1777.0,872.3 1783.9,837.9 1791.6,803.4 1799.4,769.0 1808.0,731.1 1815.7,696.7 1820.9,662.3 1826.9,634.7 1831.2,614.1 1835.5,605.5" fill="#8C181B"/>
<polygon points="1876.0,611.5 1882.0,614.1 1882.0,629.6 1878.6,641.6 1876.0,662.3 1870.8,689.8 1863.9,724.2 1857.1,755.2 1850.2,789.7 1841.6,824.1 1833.8,858.5 1826.1,893.0 1819.2,925.7 1806.3,925.7 1806.3,903.3 1812.3,868.9 1817.5,834.4 1825.2,800.0 1833.8,769.0 1840.7,731.1 1849.3,696.7 1856.2,662.3 1860.5,641.6 1867.4,624.4 1871.7,612.4" fill="#8C181B"/>
<polygon points="1894.1,720.8 1893.7,738.0 1890.6,755.2 1888.1,779.3 1884.3,796.5 1881.2,817.2 1876.0,844.7 1869.1,872.3 1862.2,896.4 1855.3,917.1 1850.2,922.2 1843.3,922.2 1838.5,917.1 1839.8,899.8 1845.9,868.9 1853.6,834.4 1860.5,806.9 1867.4,786.2 1873.4,769.0 1877.7,760.4 1884.6,751.8 1889.8,734.6 1891.5,720.8" fill="#8C181B"/>
<polygon points="1879.4,907.6 1882.0,907.6 1882.0,920.5 1876.9,920.5 1876.9,917.1 1879.4,917.1" fill="#8C181B"/>
<polygon points="1885.5,915.3 1888.1,915.3 1888.1,917.9 1885.5,917.9" fill="#8C181B"/>
<polygon points="1894.1,712.5 1897.0,712.5 1897.0,715.3 1894.1,715.3" fill="#8C181B"/>
<polygon points="2090.4,614.1 2095.0,614.1 2095.0,618.9 2092.6,617.5" fill="#8C181B"/>
<rect x="1740.50" y="596.00" width="354.50" height="331.50" fill="none" stroke="#231F20" stroke-width="1.6"/>
<path d="M1829.12 927.50v-3.40 M1829.12 596.00v3.40 M1740.50 844.62h3.40 M2095.00 844.62h-3.40 M1917.75 927.50v-3.40 M1917.75 596.00v3.40 M1740.50 761.75h3.40 M2095.00 761.75h-3.40 M2006.38 927.50v-3.40 M2006.38 596.00v3.40 M1740.50 678.88h3.40 M2095.00 678.88h-3.40" stroke="#231F20" stroke-width="1.3" fill="none"/>
<text transform="translate(1740.50 953.70) scale(1 1.040)" font-size="22" text-anchor="middle" fill="#231F20">−180</text>
<text transform="translate(1732.30 933.30) scale(1 1.040)" font-size="22" text-anchor="end" fill="#231F20">−180</text>
<text transform="translate(1829.12 953.70) scale(1 1.040)" font-size="22" text-anchor="middle" fill="#231F20">−90</text>
<text transform="translate(1732.30 850.42) scale(1 1.040)" font-size="22" text-anchor="end" fill="#231F20">−90</text>
<text transform="translate(1917.75 953.70) scale(1 1.040)" font-size="22" text-anchor="middle" fill="#231F20">0</text>
<text transform="translate(1732.30 767.55) scale(1 1.040)" font-size="22" text-anchor="end" fill="#231F20">0</text>
<text transform="translate(2006.38 953.70) scale(1 1.040)" font-size="22" text-anchor="middle" fill="#231F20">+90</text>
<text transform="translate(1732.30 684.67) scale(1 1.040)" font-size="22" text-anchor="end" fill="#231F20">+90</text>
<text transform="translate(2095.00 953.70) scale(1 1.040)" font-size="22" text-anchor="middle" fill="#231F20">+180</text>
<text transform="translate(1732.30 601.80) scale(1 1.040)" font-size="22" text-anchor="end" fill="#231F20">+180</text>
<text transform="translate(1917.75 987.70) scale(1 1.025)" font-size="26.5" text-anchor="middle" fill="#231F20">Theta Phase (°)</text>
<text transform="translate(1675.50 760.25) rotate(-90) scale(1 1.025)" font-size="26.5" text-anchor="middle" fill="#231F20">30 - 50 Hz Phase (°)</text>
<text transform="translate(1917.75 573.70) scale(1 1.025)" font-size="26.5" text-anchor="middle" fill="#231F20">Rand. Perm. - Corrected</text>
<rect x="1929.50" y="616.50" width="26" height="26" fill="#8C181B" stroke="#231F20" stroke-width="1.2"/>
<rect x="1929.50" y="651.70" width="26" height="26" fill="#fff" stroke="#231F20" stroke-width="1.2"/>
<text transform="translate(1969.70 635.30) scale(1 1.025)" font-size="20" text-anchor="start" fill="#231F20">Signif.</text>
<text transform="translate(1969.70 670.80) scale(1 1.025)" font-size="20" text-anchor="start" fill="#231F20">Non-signif.</text>
<text transform="translate(1.50 1098.70) scale(1 1.040)" font-size="57.5" text-anchor="start" fill="#231F20">B</text>
<text transform="translate(258.90 1140.60) scale(1 1.025)" font-size="37.7" text-anchor="middle" fill="#231F20">1-s epochs</text>
<text transform="translate(396.20 1243.20) scale(1 1.025)" font-size="38" text-anchor="end" fill="#231F20">7 rats</text>
<path d="M130.40 1179.90V1606.50H387.00 M130.40 1553.17h6 M130.40 1499.85h6 M130.40 1446.53h6 M130.40 1393.20h6 M130.40 1339.88h6 M130.40 1286.55h6 M130.40 1233.22h6 M130.40 1179.90h6 M258.40 1606.50v-6 M386.40 1606.50v-6" stroke="#3A3A3C" stroke-width="1.4" fill="none"/>
<polygon points="143.2,1555.3 156.0,1510.9 168.8,1397.5 181.6,1285.5 194.4,1261.0 207.2,1294.5 220.0,1352.7 232.8,1402.8 245.6,1438.0 258.4,1461.5 271.2,1478.5 284.0,1490.8 296.8,1506.2 309.6,1512.6 322.4,1518.5 335.2,1524.9 348.0,1530.2 360.8,1534.5 373.6,1537.2 386.4,1539.3 386.4,1603.3 373.6,1603.0 360.8,1602.6 348.0,1602.2 335.2,1601.9 322.4,1601.6 309.6,1601.2 296.8,1600.6 284.0,1600.1 271.2,1599.0 258.4,1598.2 245.6,1595.8 232.8,1592.4 220.0,1588.4 207.2,1583.6 194.4,1578.6 181.6,1581.4 168.8,1594.8 156.0,1601.2 143.2,1603.3" fill="#F79A3E"/>
<polygon points="143.2,1555.3 156.0,1510.9 168.8,1399.6 181.6,1295.6 194.4,1263.1 207.2,1295.6 220.0,1355.2 232.8,1405.3 245.6,1439.8 258.4,1462.9 271.2,1480.2 284.0,1493.7 296.8,1509.0 309.6,1513.8 322.4,1521.5 335.2,1526.3 348.0,1531.1 360.8,1535.0 373.6,1537.9 386.4,1539.8 386.4,1603.3 373.6,1602.9 360.8,1602.4 348.0,1602.0 335.2,1601.6 322.4,1601.2 309.6,1600.7 296.8,1600.1 284.0,1599.4 271.2,1598.4 258.4,1597.4 245.6,1595.2 232.8,1591.7 220.0,1587.8 207.2,1583.0 194.4,1578.2 181.6,1581.1 168.8,1594.8 156.0,1601.0 143.2,1603.3" fill="#E31E26"/>
<polyline points="143.2,1583.0 156.0,1566.7 168.8,1509.0 181.6,1455.3 194.4,1444.6 207.2,1474.5 220.0,1503.3 232.8,1524.4 245.6,1538.9 258.4,1547.5 271.2,1555.3 284.0,1561.0 296.8,1566.0 309.6,1569.6 322.4,1572.4 335.2,1575.4 348.0,1577.7 360.8,1579.2 373.6,1579.8 386.4,1580.2" fill="none" stroke="#14A04B" stroke-width="11.3" stroke-linejoin="round"/>
<text transform="translate(123.80 1616.20) scale(1 1.040)" font-size="30" text-anchor="end" fill="#231F20">0</text>
<text transform="translate(123.80 1509.55) scale(1 1.040)" font-size="30" text-anchor="end" fill="#231F20">0.1</text>
<text transform="translate(123.80 1402.90) scale(1 1.040)" font-size="30" text-anchor="end" fill="#231F20">0.2</text>
<text transform="translate(123.80 1296.25) scale(1 1.040)" font-size="30" text-anchor="end" fill="#231F20">0.3</text>
<text transform="translate(123.80 1189.60) scale(1 1.040)" font-size="30" text-anchor="end" fill="#231F20">0.4</text>
<text transform="translate(141.40 1641.70) scale(1 1.040)" font-size="30" text-anchor="middle" fill="#231F20">1:1</text>
<text transform="translate(263.90 1641.70) scale(1 1.040)" font-size="30" text-anchor="middle" fill="#231F20">1:10</text>
<text transform="translate(393.10 1641.70) scale(1 1.040)" font-size="30" text-anchor="middle" fill="#231F20">1:20</text>
<text transform="translate(262.40 1673.90) scale(1 1.025)" font-size="30" text-anchor="middle" fill="#231F20">n:m</text>
<text transform="translate(599.20 1140.60) scale(1 1.025)" font-size="37.7" text-anchor="middle" fill="#231F20">10-s epochs</text>
<text transform="translate(736.50 1243.20) scale(1 1.025)" font-size="38" text-anchor="end" fill="#231F20">7 rats</text>
<path d="M470.70 1179.90V1606.50H727.30 M470.70 1553.17h6 M470.70 1499.85h6 M470.70 1446.53h6 M470.70 1393.20h6 M470.70 1339.88h6 M470.70 1286.55h6 M470.70 1233.22h6 M470.70 1179.90h6 M598.70 1606.50v-6 M726.70 1606.50v-6" stroke="#3A3A3C" stroke-width="1.4" fill="none"/>
<polygon points="483.5,1589.6 496.3,1577.0 509.1,1538.2 521.9,1499.8 534.7,1482.4 547.5,1506.9 560.3,1528.6 573.1,1540.9 585.9,1555.0 598.7,1562.5 611.5,1566.2 624.3,1572.2 637.1,1574.5 649.9,1577.5 662.7,1579.4 675.5,1580.1 688.3,1582.0 701.1,1583.9 713.9,1585.0 726.7,1585.4 726.7,1605.4 713.9,1605.4 701.1,1605.4 688.3,1605.4 675.5,1605.4 662.7,1605.4 649.9,1605.2 637.1,1605.0 624.3,1604.8 611.5,1604.6 598.7,1604.4 585.9,1603.5 573.1,1602.4 560.3,1601.4 547.5,1599.6 534.7,1598.2 521.9,1600.3 509.1,1603.5 496.3,1605.9 483.5,1606.1" fill="#F79A3E"/>
<polygon points="483.5,1590.5 496.3,1577.7 509.1,1542.7 521.9,1506.9 534.7,1496.4 547.5,1510.5 560.3,1529.3 573.1,1541.2 585.9,1555.3 598.7,1562.8 611.5,1566.5 624.3,1572.5 637.1,1574.7 649.9,1577.7 662.7,1579.6 675.5,1580.3 688.3,1582.2 701.1,1584.1 713.9,1585.2 726.7,1585.6 726.7,1605.4 713.9,1605.4 701.1,1605.4 688.3,1605.4 675.5,1605.2 662.7,1605.2 649.9,1605.0 637.1,1604.8 624.3,1604.6 611.5,1604.4 598.7,1604.2 585.9,1603.3 573.1,1602.2 560.3,1601.2 547.5,1599.4 534.7,1598.0 521.9,1600.1 509.1,1603.3 496.3,1605.8 483.5,1606.0" fill="#E31E26"/>
<polyline points="483.5,1597.9 496.3,1591.9 509.1,1569.5 521.9,1551.7 534.7,1550.9 547.5,1559.9 560.3,1570.2 573.1,1577.7 585.9,1583.7 598.7,1586.7 611.5,1589.2 624.3,1591.1 637.1,1592.6 649.9,1594.1 662.7,1595.2 675.5,1596.0 688.3,1596.6 701.1,1597.1 713.9,1597.5 726.7,1597.9" fill="none" stroke="#14A04B" stroke-width="11.3" stroke-linejoin="round"/>
<text transform="translate(464.10 1616.20) scale(1 1.040)" font-size="30" text-anchor="end" fill="#231F20">0</text>
<text transform="translate(464.10 1509.55) scale(1 1.040)" font-size="30" text-anchor="end" fill="#231F20">0.1</text>
<text transform="translate(464.10 1402.90) scale(1 1.040)" font-size="30" text-anchor="end" fill="#231F20">0.2</text>
<text transform="translate(464.10 1296.25) scale(1 1.040)" font-size="30" text-anchor="end" fill="#231F20">0.3</text>
<text transform="translate(464.10 1189.60) scale(1 1.040)" font-size="30" text-anchor="end" fill="#231F20">0.4</text>
<text transform="translate(481.70 1641.70) scale(1 1.040)" font-size="30" text-anchor="middle" fill="#231F20">1:1</text>
<text transform="translate(604.20 1641.70) scale(1 1.040)" font-size="30" text-anchor="middle" fill="#231F20">1:10</text>
<text transform="translate(733.40 1641.70) scale(1 1.040)" font-size="30" text-anchor="middle" fill="#231F20">1:20</text>
<text transform="translate(602.70 1673.90) scale(1 1.025)" font-size="30" text-anchor="middle" fill="#231F20">n:m</text>
<text transform="translate(939.60 1140.60) scale(1 1.025)" font-size="37.7" text-anchor="middle" fill="#231F20">100-s epochs</text>
<text transform="translate(1076.90 1243.20) scale(1 1.025)" font-size="38" text-anchor="end" fill="#231F20">7 rats</text>
<path d="M811.10 1179.90V1606.50H1067.70 M811.10 1553.17h6 M811.10 1499.85h6 M811.10 1446.53h6 M811.10 1393.20h6 M811.10 1339.88h6 M811.10 1286.55h6 M811.10 1233.22h6 M811.10 1179.90h6 M939.10 1606.50v-6 M1067.10 1606.50v-6" stroke="#3A3A3C" stroke-width="1.4" fill="none"/>
<polygon points="823.9,1599.0 836.7,1595.2 849.5,1580.6 862.3,1558.0 875.1,1558.7 887.9,1574.1 900.7,1582.4 913.5,1587.9 926.3,1590.9 939.1,1593.0 951.9,1594.4 964.7,1595.6 977.5,1596.4 990.3,1597.2 1003.1,1598.0 1015.9,1598.8 1028.7,1599.5 1041.5,1599.9 1054.3,1600.0 1067.1,1599.9 1067.1,1606.0 1054.3,1606.0 1041.5,1606.0 1028.7,1606.0 1015.9,1606.0 1003.1,1605.9 990.3,1605.9 977.5,1605.9 964.7,1605.8 951.9,1605.8 939.1,1605.4 926.3,1605.2 913.5,1605.0 900.7,1604.7 887.9,1604.5 875.1,1603.9 862.3,1603.8 849.5,1605.2 836.7,1605.9 823.9,1606.2" fill="#F79A3E"/>
<polygon points="823.9,1601.1 836.7,1598.8 849.5,1587.9 862.3,1574.4 875.1,1572.1 887.9,1576.6 900.7,1582.8 913.5,1588.5 926.3,1591.2 939.1,1593.2 951.9,1594.7 964.7,1595.7 977.5,1596.5 990.3,1597.4 1003.1,1598.1 1015.9,1599.0 1028.7,1599.5 1041.5,1599.9 1054.3,1600.0 1067.1,1599.9 1067.1,1606.0 1054.3,1606.0 1041.5,1606.0 1028.7,1606.0 1015.9,1606.0 1003.1,1605.9 990.3,1605.9 977.5,1605.9 964.7,1605.8 951.9,1605.8 939.1,1605.4 926.3,1605.1 913.5,1604.9 900.7,1604.5 887.9,1604.0 875.1,1603.9 862.3,1603.8 849.5,1605.2 836.7,1605.9 823.9,1606.1" fill="#E31E26"/>
<polyline points="823.9,1601.4 836.7,1600.5 849.5,1590.8 862.3,1579.7 875.1,1579.5 887.9,1594.3 900.7,1595.0 913.5,1598.1 926.3,1599.6 939.1,1601.6 951.9,1600.5 964.7,1601.1 977.5,1602.3 990.3,1602.3 1003.1,1602.3 1015.9,1602.7 1028.7,1603.0 1041.5,1603.2 1054.3,1603.4 1067.1,1603.6" fill="none" stroke="#14A04B" stroke-width="11.3" stroke-linejoin="round"/>
<text transform="translate(804.50 1616.20) scale(1 1.040)" font-size="30" text-anchor="end" fill="#231F20">0</text>
<text transform="translate(804.50 1509.55) scale(1 1.040)" font-size="30" text-anchor="end" fill="#231F20">0.1</text>
<text transform="translate(804.50 1402.90) scale(1 1.040)" font-size="30" text-anchor="end" fill="#231F20">0.2</text>
<text transform="translate(804.50 1296.25) scale(1 1.040)" font-size="30" text-anchor="end" fill="#231F20">0.3</text>
<text transform="translate(804.50 1189.60) scale(1 1.040)" font-size="30" text-anchor="end" fill="#231F20">0.4</text>
<text transform="translate(822.10 1641.70) scale(1 1.040)" font-size="30" text-anchor="middle" fill="#231F20">1:1</text>
<text transform="translate(944.60 1641.70) scale(1 1.040)" font-size="30" text-anchor="middle" fill="#231F20">1:10</text>
<text transform="translate(1073.80 1641.70) scale(1 1.040)" font-size="30" text-anchor="middle" fill="#231F20">1:20</text>
<text transform="translate(943.10 1673.90) scale(1 1.025)" font-size="30" text-anchor="middle" fill="#231F20">n:m</text>
<rect x="811.10" y="1553.17" width="260.80" height="55.62" fill="none" stroke="#E31E26" stroke-width="3.6" stroke-dasharray="7.4 5"/>
<path d="M941.10 1682V1712" stroke="#E31E26" stroke-width="1.6" fill="none"/>
<path d="M941.10 1726l-9 -17.5q9 5 18 0z" fill="#E31E26"/>
<path d="M811.10 1732.60V2160.40H1067.70 M811.10 2074.84h7 M811.10 1989.28h7 M811.10 1903.72h7 M811.10 1818.16h7 M939.10 2160.40v-6" stroke="#3A3A3C" stroke-width="1.4" fill="none"/>
<polygon points="823.9,2100.5 836.7,2069.7 849.5,1952.5 862.3,1771.1 875.1,1777.1 887.9,1900.3 900.7,1967.0 913.5,2011.5 926.3,2035.5 939.1,2051.7 951.9,2063.7 964.7,2072.6 977.5,2079.1 990.3,2086.0 1003.1,2092.0 1015.9,2098.8 1028.7,2103.9 1041.5,2107.4 1054.3,2108.2 1067.1,2107.8 1067.1,2156.1 1054.3,2156.1 1041.5,2156.1 1028.7,2156.1 1015.9,2156.1 1003.1,2155.3 990.3,2155.3 977.5,2155.3 964.7,2154.4 951.9,2154.4 939.1,2151.8 926.3,2150.1 913.5,2148.4 900.7,2145.9 887.9,2144.1 875.1,2139.9 862.3,2139.0 849.5,2150.1 836.7,2155.3 823.9,2157.8" fill="#F79A3E"/>
<polygon points="823.9,2116.8 836.7,2098.8 849.5,2011.5 862.3,1902.9 875.1,1884.0 887.9,1920.8 900.7,1970.5 913.5,2015.8 926.3,2037.5 939.1,2053.5 951.9,2065.4 964.7,2074.0 977.5,2080.0 990.3,2087.2 1003.1,2093.1 1015.9,2100.5 1028.7,2104.3 1041.5,2107.8 1054.3,2108.2 1067.1,2107.8 1067.1,2156.1 1054.3,2156.1 1041.5,2156.1 1028.7,2156.1 1015.9,2156.1 1003.1,2155.3 990.3,2155.3 977.5,2155.3 964.7,2154.4 951.9,2154.4 939.1,2151.8 926.3,2149.3 913.5,2147.6 900.7,2144.1 887.9,2140.7 875.1,2139.4 862.3,2138.5 849.5,2150.1 836.7,2155.3 823.9,2157.5" fill="#E31E26"/>
<polyline points="823.9,2119.3 836.7,2112.5 849.5,2034.6 862.3,1945.6 875.1,1943.9 887.9,2062.4 900.7,2068.3 913.5,2093.1 926.3,2104.8 939.1,2121.0 951.9,2112.5 964.7,2116.8 977.5,2127.0 990.3,2127.0 1003.1,2127.0 1015.9,2129.6 1028.7,2132.6 1041.5,2133.9 1054.3,2135.6 1067.1,2137.3" fill="none" stroke="#14A04B" stroke-width="12.3" stroke-linejoin="round"/>
<rect x="811.10" y="1732.60" width="260.80" height="429.30" fill="none" stroke="#E31E26" stroke-width="3.6" stroke-dasharray="7.4 5"/>
<text transform="translate(803.10 2170.10) scale(1 1.040)" font-size="30" text-anchor="end" fill="#231F20">0</text>
<text transform="translate(803.10 2084.54) scale(1 1.040)" font-size="30" text-anchor="end" fill="#231F20">0.01</text>
<text transform="translate(803.10 1998.98) scale(1 1.040)" font-size="30" text-anchor="end" fill="#231F20">0.02</text>
<text transform="translate(803.10 1913.42) scale(1 1.040)" font-size="30" text-anchor="end" fill="#231F20">0.03</text>
<text transform="translate(803.10 1827.86) scale(1 1.040)" font-size="30" text-anchor="end" fill="#231F20">0.04</text>
<text transform="translate(803.10 1742.30) scale(1 1.040)" font-size="30" text-anchor="end" fill="#231F20">0.05</text>
<text transform="translate(822.10 2196.00) scale(1 1.040)" font-size="30" text-anchor="middle" fill="#231F20">1:1</text>
<text transform="translate(944.60 2196.00) scale(1 1.040)" font-size="30" text-anchor="middle" fill="#231F20">1:10</text>
<text transform="translate(1073.80 2196.00) scale(1 1.040)" font-size="30" text-anchor="middle" fill="#231F20">1:20</text>
<text transform="translate(943.10 2228.00) scale(1 1.025)" font-size="30" text-anchor="middle" fill="#231F20">n:m</text>
<text transform="translate(1277.10 1140.60) scale(1 1.025)" font-size="37.7" text-anchor="middle" fill="#231F20">300-s epochs</text>
<text transform="translate(1414.40 1243.20) scale(1 1.025)" font-size="38" text-anchor="end" fill="#231F20">6 rats</text>
<path d="M1148.60 1179.90V1606.50H1405.20 M1148.60 1553.17h6 M1148.60 1499.85h6 M1148.60 1446.53h6 M1148.60 1393.20h6 M1148.60 1339.88h6 M1148.60 1286.55h6 M1148.60 1233.22h6 M1148.60 1179.90h6 M1276.60 1606.50v-6 M1404.60 1606.50v-6" stroke="#3A3A3C" stroke-width="1.4" fill="none"/>
<polygon points="1161.4,1600.4 1174.2,1598.9 1187.0,1583.1 1199.8,1557.9 1212.6,1567.5 1225.4,1587.8 1238.2,1592.3 1251.0,1594.7 1263.8,1597.4 1276.6,1598.4 1289.4,1599.2 1302.2,1600.3 1315.0,1600.4 1327.8,1600.8 1340.6,1601.6 1353.4,1601.2 1366.2,1602.3 1379.0,1602.6 1391.8,1602.8 1404.6,1602.8 1404.6,1606.2 1391.8,1606.2 1379.0,1606.2 1366.2,1606.2 1353.4,1606.2 1340.6,1606.2 1327.8,1606.2 1315.0,1606.1 1302.2,1606.1 1289.4,1606.1 1276.6,1606.0 1263.8,1606.0 1251.0,1605.9 1238.2,1605.5 1225.4,1605.5 1212.6,1605.2 1199.8,1605.2 1187.0,1605.5 1174.2,1606.1 1161.4,1606.2" fill="#F79A3E"/>
<polygon points="1161.4,1603.5 1174.2,1603.0 1187.0,1596.7 1199.8,1588.0 1212.6,1587.0 1225.4,1588.7 1238.2,1592.6 1251.0,1595.0 1263.8,1597.4 1276.6,1598.6 1289.4,1599.5 1302.2,1600.4 1315.0,1601.0 1327.8,1601.5 1340.6,1601.8 1353.4,1602.1 1366.2,1602.4 1379.0,1602.6 1391.8,1602.8 1404.6,1602.9 1404.6,1606.2 1391.8,1606.2 1379.0,1606.2 1366.2,1606.2 1353.4,1606.2 1340.6,1606.2 1327.8,1606.2 1315.0,1606.1 1302.2,1606.1 1289.4,1606.1 1276.6,1606.0 1263.8,1606.0 1251.0,1605.9 1238.2,1605.5 1225.4,1605.5 1212.6,1605.2 1199.8,1605.2 1187.0,1605.5 1174.2,1606.1 1161.4,1606.2" fill="#E31E26"/>
<polyline points="1161.4,1602.1 1174.2,1602.5 1187.0,1590.9 1199.8,1581.2 1212.6,1583.1 1225.4,1600.1 1238.2,1599.1 1251.0,1601.5 1263.8,1602.0 1276.6,1602.7 1289.4,1602.8 1302.2,1603.5 1315.0,1603.9 1327.8,1604.2 1340.6,1603.7 1353.4,1604.0 1366.2,1604.9 1379.0,1604.9 1391.8,1604.6 1404.6,1604.5" fill="none" stroke="#14A04B" stroke-width="11.3" stroke-linejoin="round"/>
<text transform="translate(1143.70 1616.20) scale(1 1.040)" font-size="30" text-anchor="end" fill="#231F20">0</text>
<text transform="translate(1143.70 1509.55) scale(1 1.040)" font-size="30" text-anchor="end" fill="#231F20">0.1</text>
<text transform="translate(1143.70 1402.90) scale(1 1.040)" font-size="30" text-anchor="end" fill="#231F20">0.2</text>
<text transform="translate(1143.70 1296.25) scale(1 1.040)" font-size="30" text-anchor="end" fill="#231F20">0.3</text>
<text transform="translate(1143.70 1189.60) scale(1 1.040)" font-size="30" text-anchor="end" fill="#231F20">0.4</text>
<text transform="translate(1162.40 1641.70) scale(1 1.040)" font-size="30" text-anchor="middle" fill="#231F20">1:1</text>
<text transform="translate(1284.90 1641.70) scale(1 1.040)" font-size="30" text-anchor="middle" fill="#231F20">1:10</text>
<text transform="translate(1414.10 1641.70) scale(1 1.040)" font-size="30" text-anchor="middle" fill="#231F20">1:20</text>
<text transform="translate(1283.40 1673.90) scale(1 1.025)" font-size="30" text-anchor="middle" fill="#231F20">n:m</text>
<rect x="1148.60" y="1553.17" width="260.80" height="55.62" fill="none" stroke="#E31E26" stroke-width="3.6" stroke-dasharray="7.4 5"/>
<path d="M1278.60 1682V1712" stroke="#E31E26" stroke-width="1.6" fill="none"/>
<path d="M1278.60 1726l-9 -17.5q9 5 18 0z" fill="#E31E26"/>
<path d="M1148.60 1732.60V2160.40H1405.20 M1148.60 2074.84h7 M1148.60 1989.28h7 M1148.60 1903.72h7 M1148.60 1818.16h7 M1276.60 2160.40v-6" stroke="#3A3A3C" stroke-width="1.4" fill="none"/>
<polygon points="1161.4,2111.6 1174.2,2099.7 1187.0,1973.0 1199.8,1770.2 1212.6,1847.3 1225.4,2010.7 1238.2,2046.6 1251.0,2065.4 1263.8,2087.7 1276.6,2095.4 1289.4,2102.2 1302.2,2110.8 1315.0,2111.6 1327.8,2114.5 1340.6,2121.4 1353.4,2117.6 1366.2,2127.0 1379.0,2128.7 1391.8,2130.5 1404.6,2131.0 1404.6,2157.8 1391.8,2157.8 1379.0,2157.8 1366.2,2157.8 1353.4,2157.8 1340.6,2157.8 1327.8,2157.8 1315.0,2157.0 1302.2,2157.0 1289.4,2157.0 1276.6,2156.1 1263.8,2156.1 1251.0,2155.3 1238.2,2152.7 1225.4,2152.2 1212.6,2150.1 1199.8,2150.1 1187.0,2152.7 1174.2,2157.0 1161.4,2158.3" fill="#F79A3E"/>
<polygon points="1161.4,2136.4 1174.2,2132.2 1187.0,2081.7 1199.8,2012.4 1212.6,2004.1 1225.4,2017.7 1238.2,2049.2 1251.0,2068.0 1263.8,2087.7 1276.6,2097.1 1289.4,2103.9 1302.2,2111.6 1315.0,2115.9 1327.8,2120.2 1340.6,2122.8 1353.4,2125.3 1366.2,2127.9 1379.0,2128.7 1391.8,2130.5 1404.6,2131.3 1404.6,2157.8 1391.8,2157.8 1379.0,2157.8 1366.2,2157.8 1353.4,2157.8 1340.6,2157.8 1327.8,2157.8 1315.0,2157.0 1302.2,2157.0 1289.4,2157.0 1276.6,2156.1 1263.8,2156.1 1251.0,2155.3 1238.2,2152.7 1225.4,2152.2 1212.6,2150.1 1199.8,2150.1 1187.0,2152.7 1174.2,2157.0 1161.4,2158.3" fill="#E31E26"/>
<polyline points="1161.4,2125.3 1174.2,2128.2 1187.0,2035.5 1199.8,1957.6 1212.6,1973.0 1225.4,2109.1 1238.2,2100.9 1251.0,2120.2 1263.8,2124.5 1276.6,2129.6 1289.4,2131.0 1302.2,2136.4 1315.0,2139.9 1327.8,2141.6 1340.6,2137.7 1353.4,2140.7 1366.2,2147.6 1379.0,2147.6 1391.8,2145.0 1404.6,2144.1" fill="none" stroke="#14A04B" stroke-width="12.3" stroke-linejoin="round"/>
<rect x="1148.60" y="1732.60" width="260.80" height="429.30" fill="none" stroke="#E31E26" stroke-width="3.6" stroke-dasharray="7.4 5"/>
<text transform="translate(1142.30 2170.10) scale(1 1.040)" font-size="30" text-anchor="end" fill="#231F20">0</text>
<text transform="translate(1142.30 2084.54) scale(1 1.040)" font-size="30" text-anchor="end" fill="#231F20">0.01</text>
<text transform="translate(1142.30 1998.98) scale(1 1.040)" font-size="30" text-anchor="end" fill="#231F20">0.02</text>
<text transform="translate(1142.30 1913.42) scale(1 1.040)" font-size="30" text-anchor="end" fill="#231F20">0.03</text>
<text transform="translate(1142.30 1827.86) scale(1 1.040)" font-size="30" text-anchor="end" fill="#231F20">0.04</text>
<text transform="translate(1142.30 1742.30) scale(1 1.040)" font-size="30" text-anchor="end" fill="#231F20">0.05</text>
<text transform="translate(1162.40 2196.00) scale(1 1.040)" font-size="30" text-anchor="middle" fill="#231F20">1:1</text>
<text transform="translate(1284.90 2196.00) scale(1 1.040)" font-size="30" text-anchor="middle" fill="#231F20">1:10</text>
<text transform="translate(1414.10 2196.00) scale(1 1.040)" font-size="30" text-anchor="middle" fill="#231F20">1:20</text>
<text transform="translate(1283.40 2228.00) scale(1 1.025)" font-size="30" text-anchor="middle" fill="#231F20">n:m</text>
<text transform="translate(1617.50 1140.60) scale(1 1.025)" font-size="37.7" text-anchor="middle" fill="#231F20">600-s epochs</text>
<text transform="translate(1754.80 1243.20) scale(1 1.025)" font-size="38" text-anchor="end" fill="#231F20">4 rats</text>
<path d="M1489.00 1179.90V1606.50H1745.60 M1489.00 1553.17h6 M1489.00 1499.85h6 M1489.00 1446.53h6 M1489.00 1393.20h6 M1489.00 1339.88h6 M1489.00 1286.55h6 M1489.00 1233.22h6 M1489.00 1179.90h6 M1617.00 1606.50v-6 M1745.00 1606.50v-6" stroke="#3A3A3C" stroke-width="1.4" fill="none"/>
<polygon points="1501.8,1601.0 1514.6,1599.5 1527.4,1583.1 1540.2,1556.1 1553.0,1566.8 1565.8,1594.9 1578.6,1594.7 1591.4,1598.1 1604.2,1598.0 1617.0,1598.7 1629.8,1601.2 1642.6,1602.1 1655.4,1602.4 1668.2,1601.8 1681.0,1603.0 1693.8,1603.3 1706.6,1603.5 1719.4,1603.7 1732.2,1603.1 1745.0,1603.5 1745.0,1606.3 1732.2,1606.3 1719.4,1606.3 1706.6,1606.3 1693.8,1606.3 1681.0,1606.2 1668.2,1606.2 1655.4,1606.2 1642.6,1606.1 1629.8,1606.1 1617.0,1606.0 1604.2,1606.0 1591.4,1605.9 1578.6,1605.8 1565.8,1605.6 1553.0,1605.4 1540.2,1605.4 1527.4,1606.0 1514.6,1606.2 1501.8,1606.3" fill="#F79A3E"/>
<polygon points="1501.8,1604.2 1514.6,1603.5 1527.4,1598.4 1540.2,1593.3 1553.0,1592.0 1565.8,1594.3 1578.6,1597.4 1591.4,1598.9 1604.2,1600.1 1617.0,1600.7 1629.8,1601.6 1642.6,1602.2 1655.4,1602.6 1668.2,1602.9 1681.0,1603.2 1693.8,1603.4 1706.6,1603.6 1719.4,1603.7 1732.2,1603.8 1745.0,1603.8 1745.0,1606.3 1732.2,1606.3 1719.4,1606.3 1706.6,1606.3 1693.8,1606.3 1681.0,1606.2 1668.2,1606.2 1655.4,1606.2 1642.6,1606.1 1629.8,1606.1 1617.0,1606.0 1604.2,1606.0 1591.4,1605.9 1578.6,1605.8 1565.8,1605.6 1553.0,1605.4 1540.2,1605.4 1527.4,1606.0 1514.6,1606.2 1501.8,1606.3" fill="#E31E26"/>
<polyline points="1501.8,1602.7 1514.6,1603.5 1527.4,1590.3 1540.2,1576.1 1553.0,1579.0 1565.8,1601.3 1578.6,1599.5 1591.4,1603.5 1604.2,1602.7 1617.0,1603.2 1629.8,1603.5 1642.6,1604.9 1655.4,1604.6 1668.2,1604.5 1681.0,1604.7 1693.8,1605.0 1706.6,1605.1 1719.4,1605.3 1732.2,1605.2 1745.0,1605.2" fill="none" stroke="#14A04B" stroke-width="11.3" stroke-linejoin="round"/>
<text transform="translate(1484.10 1616.20) scale(1 1.040)" font-size="30" text-anchor="end" fill="#231F20">0</text>
<text transform="translate(1484.10 1509.55) scale(1 1.040)" font-size="30" text-anchor="end" fill="#231F20">0.1</text>
<text transform="translate(1484.10 1402.90) scale(1 1.040)" font-size="30" text-anchor="end" fill="#231F20">0.2</text>
<text transform="translate(1484.10 1296.25) scale(1 1.040)" font-size="30" text-anchor="end" fill="#231F20">0.3</text>
<text transform="translate(1484.10 1189.60) scale(1 1.040)" font-size="30" text-anchor="end" fill="#231F20">0.4</text>
<text transform="translate(1502.80 1641.70) scale(1 1.040)" font-size="30" text-anchor="middle" fill="#231F20">1:1</text>
<text transform="translate(1625.30 1641.70) scale(1 1.040)" font-size="30" text-anchor="middle" fill="#231F20">1:10</text>
<text transform="translate(1754.50 1641.70) scale(1 1.040)" font-size="30" text-anchor="middle" fill="#231F20">1:20</text>
<text transform="translate(1623.80 1673.90) scale(1 1.025)" font-size="30" text-anchor="middle" fill="#231F20">n:m</text>
<rect x="1489.00" y="1553.17" width="260.80" height="55.62" fill="none" stroke="#E31E26" stroke-width="3.6" stroke-dasharray="7.4 5"/>
<path d="M1619.00 1682V1712" stroke="#E31E26" stroke-width="1.6" fill="none"/>
<path d="M1619.00 1726l-9 -17.5q9 5 18 0z" fill="#E31E26"/>
<path d="M1489.00 1732.60V2160.40H1745.60 M1489.00 2074.84h7 M1489.00 1989.28h7 M1489.00 1903.72h7 M1489.00 1818.16h7 M1617.00 2160.40v-6" stroke="#3A3A3C" stroke-width="1.4" fill="none"/>
<polygon points="1501.8,2115.9 1514.6,2103.9 1527.4,1973.0 1540.2,1755.7 1553.0,1842.1 1565.8,2067.1 1578.6,2065.4 1591.4,2092.8 1604.2,2092.0 1617.0,2097.9 1629.8,2117.6 1642.6,2125.3 1655.4,2127.9 1668.2,2122.8 1681.0,2132.2 1693.8,2134.7 1706.6,2136.4 1719.4,2138.2 1732.2,2133.0 1745.0,2136.4 1745.0,2158.7 1732.2,2158.7 1719.4,2158.7 1706.6,2158.7 1693.8,2158.7 1681.0,2157.8 1668.2,2157.8 1655.4,2157.8 1642.6,2157.0 1629.8,2157.0 1617.0,2156.1 1604.2,2156.1 1591.4,2155.3 1578.6,2154.4 1565.8,2153.6 1553.0,2151.8 1540.2,2151.8 1527.4,2156.1 1514.6,2158.3 1501.8,2158.7" fill="#F79A3E"/>
<polygon points="1501.8,2141.6 1514.6,2136.4 1527.4,2095.4 1540.2,2054.3 1553.0,2044.0 1565.8,2062.9 1578.6,2087.7 1591.4,2099.7 1604.2,2109.1 1617.0,2114.2 1629.8,2121.0 1642.6,2126.2 1655.4,2128.7 1668.2,2131.3 1681.0,2133.9 1693.8,2135.6 1706.6,2136.9 1719.4,2138.2 1732.2,2139.0 1745.0,2139.0 1745.0,2158.7 1732.2,2158.7 1719.4,2158.7 1706.6,2158.7 1693.8,2158.7 1681.0,2157.8 1668.2,2157.8 1655.4,2157.8 1642.6,2157.0 1629.8,2157.0 1617.0,2156.1 1604.2,2156.1 1591.4,2155.3 1578.6,2154.4 1565.8,2153.6 1553.0,2151.8 1540.2,2151.8 1527.4,2156.1 1514.6,2158.3 1501.8,2158.7" fill="#E31E26"/>
<polyline points="1501.8,2129.6 1514.6,2136.4 1527.4,2030.3 1540.2,1916.6 1553.0,1939.7 1565.8,2118.5 1578.6,2103.9 1591.4,2136.4 1604.2,2129.6 1617.0,2133.9 1629.8,2136.4 1642.6,2147.6 1655.4,2145.0 1668.2,2144.1 1681.0,2145.9 1693.8,2148.4 1706.6,2149.3 1719.4,2151.0 1732.2,2150.1 1745.0,2150.1" fill="none" stroke="#14A04B" stroke-width="12.3" stroke-linejoin="round"/>
<rect x="1489.00" y="1732.60" width="260.80" height="429.30" fill="none" stroke="#E31E26" stroke-width="3.6" stroke-dasharray="7.4 5"/>
<text transform="translate(1482.70 2170.10) scale(1 1.040)" font-size="30" text-anchor="end" fill="#231F20">0</text>
<text transform="translate(1482.70 2084.54) scale(1 1.040)" font-size="30" text-anchor="end" fill="#231F20">0.01</text>
<text transform="translate(1482.70 1998.98) scale(1 1.040)" font-size="30" text-anchor="end" fill="#231F20">0.02</text>
<text transform="translate(1482.70 1913.42) scale(1 1.040)" font-size="30" text-anchor="end" fill="#231F20">0.03</text>
<text transform="translate(1482.70 1827.86) scale(1 1.040)" font-size="30" text-anchor="end" fill="#231F20">0.04</text>
<text transform="translate(1482.70 1742.30) scale(1 1.040)" font-size="30" text-anchor="end" fill="#231F20">0.05</text>
<text transform="translate(1502.80 2196.00) scale(1 1.040)" font-size="30" text-anchor="middle" fill="#231F20">1:1</text>
<text transform="translate(1625.30 2196.00) scale(1 1.040)" font-size="30" text-anchor="middle" fill="#231F20">1:10</text>
<text transform="translate(1754.50 2196.00) scale(1 1.040)" font-size="30" text-anchor="middle" fill="#231F20">1:20</text>
<text transform="translate(1623.80 2228.00) scale(1 1.025)" font-size="30" text-anchor="middle" fill="#231F20">n:m</text>
<text transform="translate(1957.80 1140.60) scale(1 1.025)" font-size="37.7" text-anchor="middle" fill="#231F20">1200-s epochs</text>
<text transform="translate(2095.10 1243.20) scale(1 1.025)" font-size="38" text-anchor="end" fill="#231F20">2 rats</text>
<path d="M1829.30 1179.90V1606.50H2085.90 M1829.30 1553.17h6 M1829.30 1499.85h6 M1829.30 1446.53h6 M1829.30 1393.20h6 M1829.30 1339.88h6 M1829.30 1286.55h6 M1829.30 1233.22h6 M1829.30 1179.90h6 M1957.30 1606.50v-6 M2085.30 1606.50v-6" stroke="#3A3A3C" stroke-width="1.4" fill="none"/>
<polygon points="1842.1,1600.6 1854.9,1601.2 1867.7,1584.9 1880.5,1556.3 1893.3,1569.2 1906.1,1598.1 1918.9,1599.4 1931.7,1601.2 1944.5,1599.0 1957.3,1598.8 1970.1,1602.9 1982.9,1603.5 1995.7,1603.8 2008.5,1603.4 2021.3,1603.5 2034.1,1603.8 2046.9,1604.4 2059.7,1604.5 2072.5,1604.0 2085.3,1604.6 2085.3,1606.4 2072.5,1606.4 2059.7,1606.4 2046.9,1606.4 2034.1,1606.4 2021.3,1606.3 2008.5,1606.3 1995.7,1606.3 1982.9,1606.3 1970.1,1606.3 1957.3,1606.2 1944.5,1606.2 1931.7,1606.2 1918.9,1606.1 1906.1,1606.1 1893.3,1605.9 1880.5,1605.9 1867.7,1606.1 1854.9,1606.3 1842.1,1606.4" fill="#F79A3E"/>
<polygon points="1842.1,1605.0 1854.9,1604.2 1867.7,1601.2 1880.5,1597.2 1893.3,1596.3 1906.1,1598.4 1918.9,1599.8 1931.7,1601.2 1944.5,1601.8 1957.3,1602.4 1970.1,1603.0 1982.9,1603.2 1995.7,1603.7 2008.5,1603.9 2021.3,1604.2 2034.1,1604.4 2046.9,1604.5 2059.7,1604.6 2072.5,1604.6 2085.3,1604.6 2085.3,1606.4 2072.5,1606.4 2059.7,1606.4 2046.9,1606.4 2034.1,1606.4 2021.3,1606.3 2008.5,1606.3 1995.7,1606.3 1982.9,1606.3 1970.1,1606.3 1957.3,1606.2 1944.5,1606.2 1931.7,1606.2 1918.9,1606.1 1906.1,1606.1 1893.3,1605.9 1880.5,1605.9 1867.7,1606.1 1854.9,1606.3 1842.1,1606.4" fill="#E31E26"/>
<polyline points="1842.1,1601.3 1854.9,1602.8 1867.7,1595.7 1880.5,1573.2 1893.3,1579.7 1906.1,1604.0 1918.9,1603.2 1931.7,1603.7 1944.5,1604.2 1957.3,1604.6 1970.1,1605.0 1982.9,1605.4 1995.7,1605.4 2008.5,1604.4 2021.3,1604.9 2034.1,1605.3 2046.9,1605.4 2059.7,1605.5 2072.5,1605.5 2085.3,1605.2" fill="none" stroke="#14A04B" stroke-width="11.3" stroke-linejoin="round"/>
<text transform="translate(1824.40 1616.20) scale(1 1.040)" font-size="30" text-anchor="end" fill="#231F20">0</text>
<text transform="translate(1824.40 1509.55) scale(1 1.040)" font-size="30" text-anchor="end" fill="#231F20">0.1</text>
<text transform="translate(1824.40 1402.90) scale(1 1.040)" font-size="30" text-anchor="end" fill="#231F20">0.2</text>
<text transform="translate(1824.40 1296.25) scale(1 1.040)" font-size="30" text-anchor="end" fill="#231F20">0.3</text>
<text transform="translate(1824.40 1189.60) scale(1 1.040)" font-size="30" text-anchor="end" fill="#231F20">0.4</text>
<text transform="translate(1843.10 1641.70) scale(1 1.040)" font-size="30" text-anchor="middle" fill="#231F20">1:1</text>
<text transform="translate(1965.60 1641.70) scale(1 1.040)" font-size="30" text-anchor="middle" fill="#231F20">1:10</text>
<text transform="translate(2094.80 1641.70) scale(1 1.040)" font-size="30" text-anchor="middle" fill="#231F20">1:20</text>
<text transform="translate(1964.10 1673.90) scale(1 1.025)" font-size="30" text-anchor="middle" fill="#231F20">n:m</text>
<rect x="1829.30" y="1553.17" width="260.80" height="55.62" fill="none" stroke="#E31E26" stroke-width="3.6" stroke-dasharray="7.4 5"/>
<path d="M1959.30 1682V1712" stroke="#E31E26" stroke-width="1.6" fill="none"/>
<path d="M1959.30 1726l-9 -17.5q9 5 18 0z" fill="#E31E26"/>
<path d="M1829.30 1732.60V2160.40H2085.90 M1829.30 2074.84h7 M1829.30 1989.28h7 M1829.30 1903.72h7 M1829.30 1818.16h7 M1957.30 2160.40v-6" stroke="#3A3A3C" stroke-width="1.4" fill="none"/>
<polygon points="1842.1,2113.3 1854.9,2117.6 1867.7,1986.7 1880.5,1757.4 1893.3,1860.9 1906.1,2092.8 1918.9,2103.1 1931.7,2117.6 1944.5,2100.5 1957.3,2098.8 1970.1,2131.3 1982.9,2136.4 1995.7,2139.0 2008.5,2135.6 2021.3,2136.4 2034.1,2139.0 2046.9,2143.3 2059.7,2144.1 2072.5,2140.7 2085.3,2145.0 2085.3,2159.5 2072.5,2159.5 2059.7,2159.5 2046.9,2159.5 2034.1,2159.5 2021.3,2158.7 2008.5,2158.7 1995.7,2158.7 1982.9,2158.7 1970.1,2158.7 1957.3,2157.8 1944.5,2157.8 1931.7,2157.8 1918.9,2157.0 1906.1,2157.0 1893.3,2155.3 1880.5,2155.3 1867.7,2157.0 1854.9,2158.7 1842.1,2159.5" fill="#F79A3E"/>
<polygon points="1842.1,2148.4 1854.9,2141.6 1867.7,2117.6 1880.5,2086.0 1893.3,2078.3 1906.1,2095.4 1918.9,2106.5 1931.7,2117.6 1944.5,2122.8 1957.3,2127.9 1970.1,2132.2 1982.9,2133.9 1995.7,2138.2 2008.5,2139.9 2021.3,2141.6 2034.1,2143.3 2046.9,2144.1 2059.7,2145.0 2072.5,2145.0 2085.3,2145.0 2085.3,2159.5 2072.5,2159.5 2059.7,2159.5 2046.9,2159.5 2034.1,2159.5 2021.3,2158.7 2008.5,2158.7 1995.7,2158.7 1982.9,2158.7 1970.1,2158.7 1957.3,2157.8 1944.5,2157.8 1931.7,2157.8 1918.9,2157.0 1906.1,2157.0 1893.3,2155.3 1880.5,2155.3 1867.7,2157.0 1854.9,2158.7 1842.1,2159.5" fill="#E31E26"/>
<polyline points="1842.1,2118.5 1854.9,2130.5 1867.7,2074.0 1880.5,1893.5 1893.3,1945.6 1906.1,2140.7 1918.9,2133.9 1931.7,2138.2 1944.5,2141.6 1957.3,2145.0 1970.1,2148.4 1982.9,2151.8 1995.7,2151.8 2008.5,2143.3 2021.3,2147.6 2034.1,2151.0 2046.9,2151.8 2059.7,2152.7 2072.5,2152.7 2085.3,2150.1" fill="none" stroke="#14A04B" stroke-width="12.3" stroke-linejoin="round"/>
<rect x="1829.30" y="1732.60" width="260.80" height="429.30" fill="none" stroke="#E31E26" stroke-width="3.6" stroke-dasharray="7.4 5"/>
<text transform="translate(1823.00 2170.10) scale(1 1.040)" font-size="30" text-anchor="end" fill="#231F20">0</text>
<text transform="translate(1823.00 2084.54) scale(1 1.040)" font-size="30" text-anchor="end" fill="#231F20">0.01</text>
<text transform="translate(1823.00 1998.98) scale(1 1.040)" font-size="30" text-anchor="end" fill="#231F20">0.02</text>
<text transform="translate(1823.00 1913.42) scale(1 1.040)" font-size="30" text-anchor="end" fill="#231F20">0.03</text>
<text transform="translate(1823.00 1827.86) scale(1 1.040)" font-size="30" text-anchor="end" fill="#231F20">0.04</text>
<text transform="translate(1823.00 1742.30) scale(1 1.040)" font-size="30" text-anchor="end" fill="#231F20">0.05</text>
<text transform="translate(1843.10 2196.00) scale(1 1.040)" font-size="30" text-anchor="middle" fill="#231F20">1:1</text>
<text transform="translate(1965.60 2196.00) scale(1 1.040)" font-size="30" text-anchor="middle" fill="#231F20">1:10</text>
<text transform="translate(2094.80 2196.00) scale(1 1.040)" font-size="30" text-anchor="middle" fill="#231F20">1:20</text>
<text transform="translate(1964.10 2228.00) scale(1 1.025)" font-size="30" text-anchor="middle" fill="#231F20">n:m</text>
<text transform="translate(52.30 1392.30) rotate(-90) scale(1 1.025)" font-size="30.6" text-anchor="middle" fill="#231F20">n:m phase-locking (R<tspan font-size="18.5" dy="10.6">n:m</tspan><tspan dy="-10.6">)</tspan></text>
<text transform="translate(711.00 1942.50) rotate(-90) scale(1 1.025)" font-size="30.6" text-anchor="middle" fill="#231F20">n:m phase-locking (R<tspan font-size="18.5" dy="10.6">n:m</tspan><tspan dy="-10.6">)</tspan></text>
<rect x="26" y="1817.8" width="94.5" height="12.3" fill="#14A04B"/>
<rect x="26" y="1867.5" width="94.5" height="34.3" fill="#F79A3E"/>
<rect x="26" y="1932.8" width="94.5" height="34.3" fill="#E31E26"/>
<text transform="translate(143.00 1836.50) scale(1 1.025)" font-size="38" text-anchor="start" fill="#231F20">Original</text>
<text transform="translate(143.50 1899.90) scale(0.8290 1.025)" font-size="38" text-anchor="start" fill="#231F20">Time Shift (2.5th - 97.5th pctile)</text>
<text transform="translate(143.50 1965.20) scale(0.8290 1.025)" font-size="38" text-anchor="start" fill="#231F20">Rand. Perm. (2.5th - 97.5th pctile)</text>
</svg></body></html>
